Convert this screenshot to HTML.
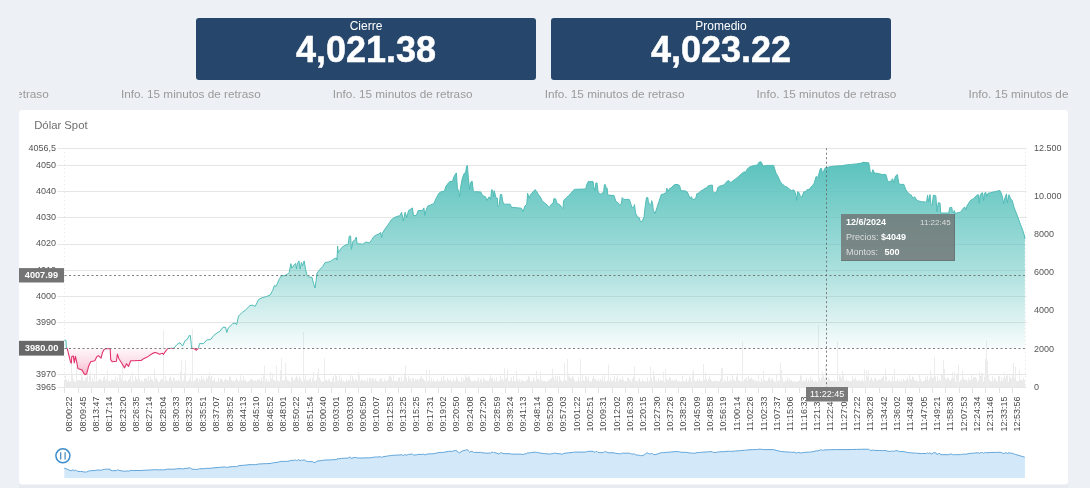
<!DOCTYPE html><html><head><meta charset="utf-8"><style>
html,body{margin:0;padding:0;width:1090px;height:488px;overflow:hidden;background:#edf0f4;}
svg{display:block;font-family:"Liberation Sans", sans-serif;will-change:transform;}
</style></head><body>
<svg width="1090" height="488" viewBox="0 0 1090 488">
<defs>
<linearGradient id="gt" gradientUnits="userSpaceOnUse" x1="0" y1="160" x2="0" y2="356"><stop offset="0" stop-color="#5ac2bd" stop-opacity="1"/><stop offset="0.55" stop-color="#5ac2bd" stop-opacity="0.52"/><stop offset="1" stop-color="#5ac2bd" stop-opacity="0"/></linearGradient>
<linearGradient id="gp" gradientUnits="userSpaceOnUse" x1="0" y1="348" x2="0" y2="376"><stop offset="0" stop-color="#fff8fa"/><stop offset="0.5" stop-color="#fbdde7"/><stop offset="1" stop-color="#f5b3c7"/></linearGradient>
<linearGradient id="gn" gradientUnits="userSpaceOnUse" x1="0" y1="445" x2="0" y2="478"><stop offset="0" stop-color="#cfe6f8"/><stop offset="1" stop-color="#d9ebf9"/></linearGradient>
<clipPath id="cu"><rect x="0" y="0" width="1090" height="348.3"/></clipPath>
<clipPath id="cd"><rect x="0" y="348.3" width="1090" height="200"/></clipPath>
</defs>
<rect x="196" y="18" width="340" height="62" rx="3" fill="#26476b"/>
<text x="366" y="30" font-size="12" fill="#fff" text-anchor="middle">Cierre</text>
<text x="366" y="62" font-size="36" font-weight="bold" fill="#fff" stroke="#fff" stroke-width="0.5" text-anchor="middle">4,021.38</text>
<rect x="551" y="18" width="340" height="62" rx="3" fill="#26476b"/>
<text x="721" y="30" font-size="12" fill="#fff" text-anchor="middle">Promedio</text>
<text x="721" y="62" font-size="36" font-weight="bold" fill="#fff" stroke="#fff" stroke-width="0.5" text-anchor="middle">4,023.22</text>
<clipPath id="ct"><rect x="19" y="80" width="1049" height="30"/></clipPath>
<g clip-path="url(#ct)">
<text x="-91.0" y="97.6" font-size="11.75" fill="#9a9a9a">Info. 15 minutos de retraso</text>
<text x="120.9" y="97.6" font-size="11.75" fill="#9a9a9a">Info. 15 minutos de retraso</text>
<text x="332.8" y="97.6" font-size="11.75" fill="#9a9a9a">Info. 15 minutos de retraso</text>
<text x="544.7" y="97.6" font-size="11.75" fill="#9a9a9a">Info. 15 minutos de retraso</text>
<text x="756.6" y="97.6" font-size="11.75" fill="#9a9a9a">Info. 15 minutos de retraso</text>
<text x="968.5" y="97.6" font-size="11.75" fill="#9a9a9a">Info. 15 minutos de retraso</text>
</g>
<rect x="19" y="470" width="1049" height="18" fill="#e7eaee"/>
<rect x="19" y="110" width="1049" height="374.4" rx="3" fill="#fff"/>
<text x="34.2" y="128.8" font-size="11.3" fill="#6e6e6e">Dólar Spot</text>
<line x1="57.5" y1="148.5" x2="1026.5" y2="148.5" stroke="#e6e6e6" stroke-width="1"/>
<line x1="57.5" y1="165.5" x2="1026.5" y2="165.5" stroke="#e6e6e6" stroke-width="1"/>
<line x1="57.5" y1="191.5" x2="1026.5" y2="191.5" stroke="#e6e6e6" stroke-width="1"/>
<line x1="57.5" y1="217.5" x2="1026.5" y2="217.5" stroke="#e6e6e6" stroke-width="1"/>
<line x1="57.5" y1="244.5" x2="1026.5" y2="244.5" stroke="#e6e6e6" stroke-width="1"/>
<line x1="57.5" y1="270.5" x2="1026.5" y2="270.5" stroke="#e6e6e6" stroke-width="1"/>
<line x1="57.5" y1="296.5" x2="1026.5" y2="296.5" stroke="#e6e6e6" stroke-width="1"/>
<line x1="57.5" y1="322.5" x2="1026.5" y2="322.5" stroke="#e6e6e6" stroke-width="1"/>
<line x1="57.5" y1="374.5" x2="1026.5" y2="374.5" stroke="#e6e6e6" stroke-width="1"/>
<line x1="57.5" y1="387.5" x2="1026.5" y2="387.5" stroke="#e6e6e6" stroke-width="1"/>
<text x="56" y="150.9" font-size="9" fill="#555" text-anchor="end">4056,5</text>
<text x="56" y="167.9" font-size="9" fill="#555" text-anchor="end">4050</text>
<text x="56" y="194.0" font-size="9" fill="#555" text-anchor="end">4040</text>
<text x="56" y="220.2" font-size="9" fill="#555" text-anchor="end">4030</text>
<text x="56" y="246.3" font-size="9" fill="#555" text-anchor="end">4020</text>
<text x="56" y="272.5" font-size="9" fill="#555" text-anchor="end">4010</text>
<text x="56" y="298.6" font-size="9" fill="#555" text-anchor="end">4000</text>
<text x="56" y="324.7" font-size="9" fill="#555" text-anchor="end">3990</text>
<text x="56" y="377.0" font-size="9" fill="#555" text-anchor="end">3970</text>
<text x="56" y="390.1" font-size="9" fill="#555" text-anchor="end">3965</text>
<text x="1034" y="389.7" font-size="9" fill="#555">0</text>
<text x="1034" y="351.5" font-size="9" fill="#555">2000</text>
<text x="1034" y="313.3" font-size="9" fill="#555">4000</text>
<text x="1034" y="275.1" font-size="9" fill="#555">6000</text>
<text x="1034" y="236.9" font-size="9" fill="#555">8000</text>
<text x="1034" y="198.7" font-size="9" fill="#555">10.000</text>
<text x="1034" y="150.5" font-size="9" fill="#555">12.500</text>
<path d="M64.5 387.4V380.3M66.5 387.4V380.0M67.5 387.4V381.3M68.5 387.4V379.3M69.5 387.4V381.6M70.5 387.4V381.6M73.5 387.4V379.4M74.5 387.4V381.8M75.5 387.4V381.6M77.5 387.4V380.3M78.5 387.4V380.0M79.5 387.4V380.1M80.5 387.4V380.3M82.5 387.4V377.2M83.5 387.4V380.9M84.5 387.4V380.9M85.5 387.4V378.2M86.5 387.4V377.1M88.5 387.4V381.8M89.5 387.4V375.8M91.5 387.4V381.6M92.5 387.4V378.0M93.5 387.4V381.6M95.5 387.4V381.5M97.5 387.4V381.3M98.5 387.4V380.3M99.5 387.4V378.5M100.5 387.4V379.2M101.5 387.4V380.4M102.5 387.4V381.0M103.5 387.4V377.7M104.5 387.4V376.4M105.5 387.4V380.5M106.5 387.4V379.2M108.5 387.4V381.1M109.5 387.4V380.8M110.5 387.4V381.6M111.5 387.4V379.6M112.5 387.4V379.5M113.5 387.4V380.3M114.5 387.4V380.1M115.5 387.4V376.8M116.5 387.4V381.4M117.5 387.4V377.5M118.5 387.4V381.3M121.5 387.4V379.5M123.5 387.4V381.1M124.5 387.4V381.1M125.5 387.4V379.5M126.5 387.4V381.3M127.5 387.4V381.6M128.5 387.4V379.8M129.5 387.4V379.4M130.5 387.4V375.6M131.5 387.4V381.8M133.5 387.4V380.6M134.5 387.4V381.4M135.5 387.4V376.3M136.5 387.4V379.1M137.5 387.4V379.6M139.5 387.4V378.8M140.5 387.4V381.7M141.5 387.4V380.2M142.5 387.4V380.8M143.5 387.4V381.6M144.5 387.4V378.5M145.5 387.4V378.5M146.5 387.4V377.9M147.5 387.4V380.7M148.5 387.4V376.0M149.5 387.4V380.5M150.5 387.4V376.8M151.5 387.4V379.3M152.5 387.4V379.6M153.5 387.4V381.6M155.5 387.4V378.5M156.5 387.4V378.5M157.5 387.4V380.3M158.5 387.4V381.6M159.5 387.4V381.7M160.5 387.4V380.2M161.5 387.4V378.8M162.5 387.4V379.4M164.5 387.4V381.2M165.5 387.4V375.9M166.5 387.4V380.3M167.5 387.4V380.8M168.5 387.4V381.2M169.5 387.4V377.7M170.5 387.4V376.5M171.5 387.4V379.6M172.5 387.4V381.4M173.5 387.4V377.3M174.5 387.4V378.7M175.5 387.4V381.0M176.5 387.4V380.3M177.5 387.4V381.2M178.5 387.4V379.3M179.5 387.4V380.9M182.5 387.4V381.7M183.5 387.4V379.7M186.5 387.4V381.1M187.5 387.4V381.7M188.5 387.4V380.3M189.5 387.4V379.1M191.5 387.4V381.2M193.5 387.4V381.3M194.5 387.4V380.7M195.5 387.4V380.0M196.5 387.4V378.3M197.5 387.4V377.9M198.5 387.4V381.6M199.5 387.4V378.6M200.5 387.4V380.3M201.5 387.4V375.8M202.5 387.4V379.7M203.5 387.4V377.8M204.5 387.4V380.2M205.5 387.4V381.2M206.5 387.4V377.5M207.5 387.4V378.6M208.5 387.4V376.0M210.5 387.4V377.9M211.5 387.4V375.8M212.5 387.4V380.7M213.5 387.4V380.3M214.5 387.4V378.1M215.5 387.4V381.7M216.5 387.4V381.6M217.5 387.4V381.3M218.5 387.4V377.9M219.5 387.4V381.4M220.5 387.4V378.6M221.5 387.4V378.9M222.5 387.4V380.1M223.5 387.4V381.6M224.5 387.4V379.9M225.5 387.4V378.5M226.5 387.4V380.0M227.5 387.4V379.7M228.5 387.4V380.6M229.5 387.4V376.0M230.5 387.4V377.0M231.5 387.4V379.9M232.5 387.4V381.2M233.5 387.4V380.1M234.5 387.4V381.7M235.5 387.4V380.0M236.5 387.4V377.8M237.5 387.4V380.1M238.5 387.4V381.6M239.5 387.4V380.5M241.5 387.4V380.2M242.5 387.4V380.4M243.5 387.4V376.0M244.5 387.4V380.8M245.5 387.4V379.4M246.5 387.4V381.5M247.5 387.4V381.7M248.5 387.4V381.2M249.5 387.4V380.8M250.5 387.4V379.4M251.5 387.4V378.5M252.5 387.4V380.0M253.5 387.4V381.2M254.5 387.4V380.4M255.5 387.4V380.5M256.5 387.4V381.4M257.5 387.4V379.3M258.5 387.4V379.9M259.5 387.4V379.4M260.5 387.4V381.1M261.5 387.4V377.6M262.5 387.4V380.9M265.5 387.4V381.4M266.5 387.4V378.6M267.5 387.4V381.5M268.5 387.4V380.4M269.5 387.4V381.5M271.5 387.4V378.9M273.5 387.4V380.0M274.5 387.4V380.1M275.5 387.4V381.3M277.5 387.4V380.0M278.5 387.4V381.4M279.5 387.4V381.2M282.5 387.4V380.2M283.5 387.4V380.8M284.5 387.4V380.0M286.5 387.4V377.2M287.5 387.4V380.3M288.5 387.4V380.5M289.5 387.4V381.3M290.5 387.4V381.8M291.5 387.4V377.8M292.5 387.4V376.9M293.5 387.4V380.5M294.5 387.4V380.0M295.5 387.4V377.7M296.5 387.4V375.7M297.5 387.4V378.0M298.5 387.4V380.5M299.5 387.4V376.5M300.5 387.4V378.2M301.5 387.4V380.5M302.5 387.4V381.6M304.5 387.4V379.4M306.5 387.4V380.8M307.5 387.4V379.7M308.5 387.4V380.6M309.5 387.4V379.2M310.5 387.4V378.2M311.5 387.4V381.7M312.5 387.4V378.4M314.5 387.4V380.6M315.5 387.4V381.1M316.5 387.4V379.8M319.5 387.4V377.7M320.5 387.4V379.5M321.5 387.4V381.7M322.5 387.4V381.4M323.5 387.4V381.3M325.5 387.4V380.4M326.5 387.4V379.5M327.5 387.4V381.0M328.5 387.4V379.7M329.5 387.4V378.6M330.5 387.4V381.8M331.5 387.4V381.7M332.5 387.4V378.3M333.5 387.4V376.1M334.5 387.4V381.7M336.5 387.4V375.9M337.5 387.4V380.2M338.5 387.4V381.1M340.5 387.4V380.2M341.5 387.4V377.6M342.5 387.4V381.5M343.5 387.4V380.3M344.5 387.4V381.7M345.5 387.4V381.5M346.5 387.4V379.0M347.5 387.4V381.0M348.5 387.4V380.4M349.5 387.4V379.9M351.5 387.4V381.1M352.5 387.4V376.2M353.5 387.4V379.3M354.5 387.4V381.0M355.5 387.4V379.7M356.5 387.4V379.3M357.5 387.4V381.3M360.5 387.4V381.0M361.5 387.4V379.4M362.5 387.4V379.8M363.5 387.4V381.6M364.5 387.4V379.8M365.5 387.4V380.6M366.5 387.4V381.2M367.5 387.4V378.4M368.5 387.4V381.6M369.5 387.4V377.7M370.5 387.4V378.1M371.5 387.4V380.4M372.5 387.4V377.6M373.5 387.4V379.1M374.5 387.4V380.8M375.5 387.4V378.4M376.5 387.4V380.4M377.5 387.4V381.5M378.5 387.4V381.6M379.5 387.4V379.7M380.5 387.4V378.9M381.5 387.4V378.1M382.5 387.4V381.2M383.5 387.4V381.6M384.5 387.4V378.6M385.5 387.4V381.0M386.5 387.4V380.7M387.5 387.4V380.7M388.5 387.4V378.7M389.5 387.4V375.5M390.5 387.4V375.7M391.5 387.4V377.7M392.5 387.4V380.8M394.5 387.4V381.1M395.5 387.4V380.7M396.5 387.4V380.5M397.5 387.4V381.3M398.5 387.4V377.8M399.5 387.4V377.3M400.5 387.4V381.3M401.5 387.4V376.5M402.5 387.4V381.7M403.5 387.4V379.8M406.5 387.4V377.9M407.5 387.4V381.6M408.5 387.4V376.1M409.5 387.4V379.3M410.5 387.4V378.4M411.5 387.4V381.1M412.5 387.4V378.2M413.5 387.4V378.2M414.5 387.4V380.8M415.5 387.4V379.0M416.5 387.4V379.9M417.5 387.4V378.7M418.5 387.4V380.5M419.5 387.4V379.1M420.5 387.4V377.7M421.5 387.4V376.3M422.5 387.4V379.2M423.5 387.4V378.7M424.5 387.4V380.4M425.5 387.4V381.4M427.5 387.4V381.3M428.5 387.4V380.4M430.5 387.4V381.5M431.5 387.4V378.1M432.5 387.4V381.6M433.5 387.4V379.6M434.5 387.4V381.7M435.5 387.4V381.3M436.5 387.4V381.1M437.5 387.4V379.5M438.5 387.4V381.3M439.5 387.4V381.3M440.5 387.4V380.9M441.5 387.4V377.6M442.5 387.4V381.0M443.5 387.4V375.7M444.5 387.4V379.8M445.5 387.4V380.2M446.5 387.4V381.7M447.5 387.4V377.8M448.5 387.4V379.9M449.5 387.4V381.0M450.5 387.4V379.1M451.5 387.4V381.8M452.5 387.4V380.6M453.5 387.4V378.7M454.5 387.4V381.4M455.5 387.4V380.8M456.5 387.4V376.7M457.5 387.4V379.3M458.5 387.4V381.0M459.5 387.4V381.4M460.5 387.4V381.8M461.5 387.4V377.1M462.5 387.4V381.6M463.5 387.4V378.6M464.5 387.4V380.2M466.5 387.4V376.9M467.5 387.4V377.9M468.5 387.4V375.6M469.5 387.4V377.4M470.5 387.4V379.8M471.5 387.4V381.4M472.5 387.4V380.9M473.5 387.4V381.6M474.5 387.4V380.2M475.5 387.4V380.7M476.5 387.4V381.5M477.5 387.4V380.3M478.5 387.4V377.4M479.5 387.4V381.8M480.5 387.4V378.7M481.5 387.4V379.7M482.5 387.4V381.8M483.5 387.4V377.8M484.5 387.4V379.4M485.5 387.4V380.6M486.5 387.4V380.9M487.5 387.4V380.6M488.5 387.4V381.1M489.5 387.4V378.5M491.5 387.4V378.6M492.5 387.4V377.4M493.5 387.4V381.4M494.5 387.4V379.0M495.5 387.4V381.3M496.5 387.4V377.3M497.5 387.4V381.6M498.5 387.4V381.4M499.5 387.4V380.5M500.5 387.4V375.5M501.5 387.4V380.0M502.5 387.4V378.2M503.5 387.4V380.6M505.5 387.4V378.8M506.5 387.4V377.9M508.5 387.4V380.8M509.5 387.4V381.5M510.5 387.4V380.0M511.5 387.4V377.4M512.5 387.4V381.4M513.5 387.4V376.0M514.5 387.4V380.7M515.5 387.4V381.4M517.5 387.4V378.7M518.5 387.4V381.3M519.5 387.4V379.3M520.5 387.4V381.6M521.5 387.4V379.7M522.5 387.4V380.8M523.5 387.4V380.7M524.5 387.4V381.5M525.5 387.4V381.4M526.5 387.4V379.8M527.5 387.4V379.7M528.5 387.4V375.8M529.5 387.4V377.5M530.5 387.4V381.5M531.5 387.4V380.9M532.5 387.4V381.1M533.5 387.4V377.4M534.5 387.4V379.8M535.5 387.4V381.7M537.5 387.4V379.1M538.5 387.4V379.0M539.5 387.4V380.6M541.5 387.4V380.2M542.5 387.4V380.6M543.5 387.4V381.3M544.5 387.4V381.0M545.5 387.4V380.8M546.5 387.4V381.7M547.5 387.4V381.4M548.5 387.4V379.5M549.5 387.4V380.5M550.5 387.4V378.9M551.5 387.4V378.3M553.5 387.4V377.0M554.5 387.4V380.4M555.5 387.4V375.9M556.5 387.4V379.9M557.5 387.4V375.9M558.5 387.4V381.7M559.5 387.4V376.0M560.5 387.4V379.5M561.5 387.4V380.9M562.5 387.4V381.6M563.5 387.4V380.3M565.5 387.4V379.9M566.5 387.4V380.9M569.5 387.4V376.8M570.5 387.4V377.7M571.5 387.4V378.4M572.5 387.4V376.0M573.5 387.4V377.9M574.5 387.4V379.9M575.5 387.4V381.8M576.5 387.4V380.9M577.5 387.4V381.6M578.5 387.4V377.6M579.5 387.4V380.7M581.5 387.4V380.9M583.5 387.4V380.2M584.5 387.4V380.9M585.5 387.4V376.1M586.5 387.4V377.3M587.5 387.4V380.2M588.5 387.4V376.5M589.5 387.4V381.2M590.5 387.4V381.3M591.5 387.4V381.7M592.5 387.4V378.6M593.5 387.4V376.0M594.5 387.4V378.7M595.5 387.4V378.8M596.5 387.4V380.3M597.5 387.4V381.2M598.5 387.4V378.7M599.5 387.4V381.3M600.5 387.4V379.1M601.5 387.4V380.6M602.5 387.4V376.4M603.5 387.4V381.1M605.5 387.4V381.0M606.5 387.4V381.6M607.5 387.4V380.3M609.5 387.4V381.0M610.5 387.4V377.7M611.5 387.4V381.0M612.5 387.4V381.1M613.5 387.4V379.8M614.5 387.4V376.1M615.5 387.4V381.7M616.5 387.4V378.3M618.5 387.4V381.3M619.5 387.4V379.2M620.5 387.4V379.1M621.5 387.4V380.0M622.5 387.4V377.1M623.5 387.4V380.0M624.5 387.4V381.3M625.5 387.4V381.3M626.5 387.4V381.1M627.5 387.4V378.1M628.5 387.4V377.9M629.5 387.4V380.1M630.5 387.4V379.6M631.5 387.4V381.7M632.5 387.4V378.7M633.5 387.4V376.6M635.5 387.4V380.4M636.5 387.4V381.0M637.5 387.4V381.6M638.5 387.4V379.7M639.5 387.4V377.9M640.5 387.4V381.4M641.5 387.4V381.7M642.5 387.4V379.4M643.5 387.4V381.0M644.5 387.4V381.6M645.5 387.4V381.3M646.5 387.4V381.4M647.5 387.4V377.4M648.5 387.4V381.6M649.5 387.4V380.7M651.5 387.4V378.2M652.5 387.4V381.4M654.5 387.4V376.3M655.5 387.4V380.6M656.5 387.4V380.4M657.5 387.4V381.7M658.5 387.4V378.2M659.5 387.4V381.1M660.5 387.4V379.8M661.5 387.4V380.3M662.5 387.4V380.7M664.5 387.4V381.7M666.5 387.4V378.8M667.5 387.4V379.6M668.5 387.4V380.2M669.5 387.4V377.2M670.5 387.4V378.0M671.5 387.4V380.7M672.5 387.4V379.8M673.5 387.4V381.2M674.5 387.4V380.2M675.5 387.4V380.3M676.5 387.4V379.0M677.5 387.4V381.2M678.5 387.4V381.6M679.5 387.4V380.7M680.5 387.4V381.8M681.5 387.4V381.0M683.5 387.4V381.0M684.5 387.4V381.4M685.5 387.4V380.7M686.5 387.4V378.6M687.5 387.4V381.7M688.5 387.4V380.6M689.5 387.4V376.4M690.5 387.4V378.1M691.5 387.4V381.7M694.5 387.4V380.4M695.5 387.4V381.4M696.5 387.4V381.0M697.5 387.4V379.1M698.5 387.4V381.2M699.5 387.4V378.7M700.5 387.4V380.6M701.5 387.4V381.2M702.5 387.4V380.7M704.5 387.4V379.7M706.5 387.4V379.0M707.5 387.4V381.2M708.5 387.4V379.1M709.5 387.4V376.7M710.5 387.4V379.3M711.5 387.4V380.4M712.5 387.4V381.6M713.5 387.4V380.8M714.5 387.4V381.0M715.5 387.4V380.5M716.5 387.4V381.3M717.5 387.4V381.1M718.5 387.4V380.8M719.5 387.4V381.4M720.5 387.4V378.8M723.5 387.4V381.7M724.5 387.4V379.6M725.5 387.4V380.8M726.5 387.4V381.7M727.5 387.4V376.2M728.5 387.4V381.0M729.5 387.4V381.3M730.5 387.4V379.4M731.5 387.4V380.7M733.5 387.4V379.3M734.5 387.4V380.5M735.5 387.4V381.0M736.5 387.4V376.5M738.5 387.4V380.0M739.5 387.4V380.7M740.5 387.4V381.4M741.5 387.4V381.2M743.5 387.4V381.1M744.5 387.4V379.2M745.5 387.4V379.4M746.5 387.4V377.4M747.5 387.4V380.8M748.5 387.4V376.4M749.5 387.4V378.7M750.5 387.4V378.9M751.5 387.4V377.5M752.5 387.4V379.4M753.5 387.4V379.7M754.5 387.4V381.0M755.5 387.4V379.9M756.5 387.4V381.1M757.5 387.4V381.3M759.5 387.4V381.5M760.5 387.4V381.5M761.5 387.4V378.1M762.5 387.4V381.4M764.5 387.4V380.0M765.5 387.4V380.6M766.5 387.4V381.1M767.5 387.4V380.8M768.5 387.4V378.2M769.5 387.4V377.4M770.5 387.4V380.4M771.5 387.4V379.4M772.5 387.4V377.8M773.5 387.4V380.6M774.5 387.4V381.1M775.5 387.4V381.8M777.5 387.4V381.4M778.5 387.4V380.4M779.5 387.4V380.5M782.5 387.4V378.5M783.5 387.4V381.5M784.5 387.4V381.7M785.5 387.4V380.2M786.5 387.4V380.9M787.5 387.4V377.2M788.5 387.4V380.6M789.5 387.4V378.2M790.5 387.4V380.6M791.5 387.4V379.8M792.5 387.4V381.4M793.5 387.4V381.5M794.5 387.4V381.1M795.5 387.4V381.5M796.5 387.4V381.8M797.5 387.4V381.4M798.5 387.4V381.0M799.5 387.4V380.2M801.5 387.4V376.2M802.5 387.4V381.6M803.5 387.4V380.1M804.5 387.4V381.2M805.5 387.4V380.1M806.5 387.4V377.7M807.5 387.4V381.7M808.5 387.4V379.1M809.5 387.4V381.0M810.5 387.4V376.8M811.5 387.4V380.3M812.5 387.4V378.6M813.5 387.4V381.7M814.5 387.4V381.5M815.5 387.4V380.7M816.5 387.4V380.9M817.5 387.4V381.8M819.5 387.4V377.9M820.5 387.4V380.5M821.5 387.4V377.4M824.5 387.4V378.7M826.5 387.4V381.2M827.5 387.4V380.6M828.5 387.4V377.6M829.5 387.4V379.3M830.5 387.4V381.0M831.5 387.4V380.8M832.5 387.4V380.8M833.5 387.4V381.2M834.5 387.4V379.8M835.5 387.4V381.3M836.5 387.4V381.4M838.5 387.4V380.8M840.5 387.4V376.5M841.5 387.4V378.3M844.5 387.4V380.5M845.5 387.4V381.3M846.5 387.4V379.0M847.5 387.4V380.8M848.5 387.4V380.7M849.5 387.4V381.4M850.5 387.4V380.6M851.5 387.4V381.2M852.5 387.4V376.3M853.5 387.4V379.3M854.5 387.4V379.7M855.5 387.4V377.3M856.5 387.4V380.3M857.5 387.4V380.4M858.5 387.4V381.1M859.5 387.4V379.7M860.5 387.4V381.7M861.5 387.4V380.3M862.5 387.4V379.5M863.5 387.4V381.4M865.5 387.4V380.9M867.5 387.4V376.7M869.5 387.4V381.1M870.5 387.4V379.2M871.5 387.4V377.4M872.5 387.4V380.0M873.5 387.4V381.6M874.5 387.4V378.7M875.5 387.4V377.7M876.5 387.4V379.9M877.5 387.4V381.3M878.5 387.4V379.2M879.5 387.4V379.8M880.5 387.4V380.1M881.5 387.4V377.8M882.5 387.4V378.1M883.5 387.4V375.9M884.5 387.4V381.4M886.5 387.4V376.8M887.5 387.4V381.5M888.5 387.4V380.6M889.5 387.4V379.4M890.5 387.4V381.6M891.5 387.4V381.2M892.5 387.4V376.6M893.5 387.4V381.3M895.5 387.4V380.9M896.5 387.4V381.0M897.5 387.4V378.8M898.5 387.4V381.5M899.5 387.4V380.2M900.5 387.4V381.5M901.5 387.4V379.4M902.5 387.4V381.3M903.5 387.4V378.9M904.5 387.4V380.7M905.5 387.4V380.5M906.5 387.4V379.3M907.5 387.4V377.5M908.5 387.4V380.3M910.5 387.4V378.8M911.5 387.4V379.6M912.5 387.4V376.6M913.5 387.4V377.0M914.5 387.4V380.3M915.5 387.4V380.6M916.5 387.4V379.5M917.5 387.4V381.6M918.5 387.4V381.0M920.5 387.4V378.8M921.5 387.4V381.1M922.5 387.4V381.4M923.5 387.4V381.1M924.5 387.4V380.8M925.5 387.4V377.1M926.5 387.4V379.8M927.5 387.4V376.1M928.5 387.4V380.7M929.5 387.4V378.6M931.5 387.4V376.8M932.5 387.4V378.7M933.5 387.4V377.1M935.5 387.4V376.6M936.5 387.4V381.5M937.5 387.4V376.5M938.5 387.4V380.6M939.5 387.4V379.3M940.5 387.4V380.9M945.5 387.4V378.0M946.5 387.4V380.0M947.5 387.4V377.6M948.5 387.4V378.2M949.5 387.4V380.4M950.5 387.4V380.6M951.5 387.4V378.7M953.5 387.4V378.1M955.5 387.4V381.7M959.5 387.4V381.6M960.5 387.4V380.3M961.5 387.4V379.8M963.5 387.4V378.3M964.5 387.4V380.0M965.5 387.4V379.5M966.5 387.4V379.6M967.5 387.4V381.5M968.5 387.4V378.0M969.5 387.4V380.5M970.5 387.4V379.9M972.5 387.4V379.2M973.5 387.4V377.3M974.5 387.4V377.2M975.5 387.4V377.1M976.5 387.4V378.4M977.5 387.4V381.5M978.5 387.4V380.2M980.5 387.4V376.1M983.5 387.4V381.5M984.5 387.4V376.9M989.5 387.4V379.4M990.5 387.4V381.2M991.5 387.4V381.4M992.5 387.4V376.3M993.5 387.4V381.2M994.5 387.4V377.7M995.5 387.4V379.1M996.5 387.4V381.1M997.5 387.4V381.6M998.5 387.4V376.2M999.5 387.4V376.0M1000.5 387.4V381.2M1001.5 387.4V377.4M1002.5 387.4V380.9M1003.5 387.4V378.1M1005.5 387.4V378.5M1006.5 387.4V375.8M1008.5 387.4V381.5M1009.5 387.4V375.5M1010.5 387.4V377.7M1011.5 387.4V378.8M1014.5 387.4V377.8M1016.5 387.4V381.3M1017.5 387.4V380.7M1018.5 387.4V381.2M1020.5 387.4V379.5M1021.5 387.4V380.1M1022.5 387.4V380.3M1023.5 387.4V377.9M1024.5 387.4V380.3" stroke="#eaeaea" stroke-width="1" fill="none"/>
<path d="M65.5 387.4V375.4M71.5 387.4V357.7M72.5 387.4V373.4M76.5 387.4V367.0M81.5 387.4V366.7M87.5 387.4V373.9M90.5 387.4V372.0M94.5 387.4V373.5M96.5 387.4V361.1M107.5 387.4V370.5M119.5 387.4V374.7M120.5 387.4V374.3M122.5 387.4V358.1M132.5 387.4V372.2M138.5 387.4V359.0M154.5 387.4V369.3M163.5 387.4V330.3M180.5 387.4V371.8M181.5 387.4V359.7M184.5 387.4V373.0M185.5 387.4V360.5M190.5 387.4V373.8M192.5 387.4V328.8M209.5 387.4V372.3M240.5 387.4V375.4M263.5 387.4V375.4M264.5 387.4V365.8M270.5 387.4V371.8M272.5 387.4V373.2M276.5 387.4V365.5M280.5 387.4V370.2M281.5 387.4V358.3M285.5 387.4V362.8M303.5 387.4V331.9M305.5 387.4V374.6M313.5 387.4V371.9M317.5 387.4V373.3M318.5 387.4V368.5M324.5 387.4V358.4M335.5 387.4V374.6M339.5 387.4V374.9M350.5 387.4V374.2M358.5 387.4V372.1M359.5 387.4V374.3M393.5 387.4V375.0M404.5 387.4V373.3M405.5 387.4V365.6M426.5 387.4V370.0M429.5 387.4V369.8M465.5 387.4V374.0M490.5 387.4V374.5M504.5 387.4V368.2M507.5 387.4V369.4M516.5 387.4V371.0M536.5 387.4V370.9M540.5 387.4V371.8M552.5 387.4V368.7M564.5 387.4V362.9M567.5 387.4V359.0M568.5 387.4V373.3M580.5 387.4V359.2M582.5 387.4V375.0M604.5 387.4V375.3M608.5 387.4V364.6M617.5 387.4V375.2M634.5 387.4V366.5M650.5 387.4V366.6M653.5 387.4V371.1M663.5 387.4V371.9M665.5 387.4V369.2M682.5 387.4V375.4M692.5 387.4V372.7M693.5 387.4V369.8M703.5 387.4V364.1M705.5 387.4V372.5M721.5 387.4V368.4M722.5 387.4V368.1M732.5 387.4V374.7M737.5 387.4V373.0M742.5 387.4V341.6M758.5 387.4V374.2M763.5 387.4V370.8M776.5 387.4V374.7M780.5 387.4V362.6M781.5 387.4V370.3M800.5 387.4V374.2M818.5 387.4V325.0M822.5 387.4V371.1M823.5 387.4V374.3M825.5 387.4V365.0M837.5 387.4V341.3M839.5 387.4V374.2M842.5 387.4V370.8M843.5 387.4V373.6M864.5 387.4V369.4M866.5 387.4V370.4M868.5 387.4V370.3M885.5 387.4V369.2M894.5 387.4V369.3M909.5 387.4V374.7M919.5 387.4V374.1M930.5 387.4V370.4M934.5 387.4V357.3M941.5 387.4V375.0M942.5 387.4V375.2M943.5 387.4V359.9M944.5 387.4V369.1M952.5 387.4V372.3M954.5 387.4V371.8M956.5 387.4V375.2M957.5 387.4V373.4M958.5 387.4V364.9M962.5 387.4V370.9M971.5 387.4V374.9M979.5 387.4V372.0M981.5 387.4V372.9M982.5 387.4V373.2M985.5 387.4V358.6M986.5 387.4V340.7M987.5 387.4V361.2M988.5 387.4V374.2M1004.5 387.4V372.6M1007.5 387.4V375.2M1012.5 387.4V374.8M1013.5 387.4V362.8M1015.5 387.4V366.7M1019.5 387.4V370.3" stroke="#ececec" stroke-width="1" fill="none"/>
<path d="M64.5 148.2V387.4M1025.5 148.2V387.4" stroke="#e4e4e4" stroke-dasharray="1,3" stroke-width="1" fill="none"/>
<path d="M64.3 340.0 L66.0 340.5 L66.4 348.5 L67.2 348.4 L70.2 360.7 L71.3 363.3 L71.8 356.6 L73.3 356.0 L74.3 362.8 L75.4 356.4 L76.4 360.7 L77.9 368.4 L80.5 369.4 L82.0 370.0 L83.6 373.0 L85.1 374.6 L86.6 374.1 L88.7 365.9 L90.7 361.8 L94.8 360.7 L96.9 356.6 L98.4 355.6 L101.0 358.2 L102.5 352.5 L104.1 349.5 L105.6 348.6 L110.2 348.6 L110.7 359.7 L112.3 361.8 L116.4 361.3 L117.4 354.1 L118.9 358.7 L121.5 362.8 L124.5 367.9 L126.6 363.8 L128.6 366.4 L130.7 360.7 L133.8 360.7 L138.0 360.5 L141.1 360.5 L144.1 358.4 L148.2 356.4 L151.3 354.3 L154.4 352.6 L156.4 352.8 L159.5 354.3 L162.6 353.3 L163.6 354.3 L165.2 351.8 L167.7 348.5 L173.9 348.2 L176.9 344.6 L180.0 342.7 L182.6 346.1 L185.1 340.5 L187.2 339.5 L189.2 335.6 L190.3 335.4 L191.3 344.6 L191.8 348.2 L194.4 348.7 L196.4 350.2 L198.5 348.2 L199.5 343.6 L203.6 343.6 L206.6 340.0 L210.7 339.5 L213.8 335.4 L218.0 332.3 L219.5 331.7 L223.0 327.3 L225.6 327.3 L226.8 332.5 L228.2 328.2 L232.6 323.8 L235.2 322.9 L236.6 324.7 L238.6 316.0 L242.1 312.5 L245.6 309.9 L250.0 305.5 L252.6 305.2 L255.2 306.4 L258.7 299.4 L262.2 297.7 L266.5 296.5 L270.0 295.1 L272.6 290.7 L274.4 285.5 L276.1 286.4 L279.6 278.5 L281.3 275.9 L284.8 275.6 L287.4 274.2 L289.2 272.4 L290.9 263.7 L291.8 268.1 L294.4 264.6 L295.6 263.4 L296.5 269.1 L297.3 264.2 L298.9 260.9 L300.2 269.1 L301.4 262.5 L302.5 265.8 L304.2 260.9 L305.5 269.1 L307.1 275.7 L308.8 277.0 L312.0 277.3 L313.7 283.9 L315.0 288.0 L316.1 280.6 L317.0 273.2 L320.2 269.1 L322.7 266.6 L325.1 262.5 L330.1 261.7 L333.3 259.3 L336.3 258.0 L337.0 260.1 L337.6 246.1 L338.3 252.7 L341.5 247.8 L344.8 245.3 L348.1 244.5 L349.4 236.0 L350.6 236.0 L351.4 249.4 L353.0 241.2 L354.7 240.4 L356.3 237.1 L357.1 243.7 L362.9 244.2 L366.1 242.0 L369.4 242.9 L371.9 239.6 L373.7 236.7 L376.4 234.9 L379.0 234.0 L380.7 232.3 L381.6 237.5 L382.5 233.2 L385.1 228.8 L387.7 225.3 L389.4 222.7 L391.2 220.1 L392.9 218.4 L396.4 216.6 L399.9 215.7 L401.6 212.3 L403.4 221.0 L405.1 212.3 L406.8 217.5 L408.6 210.5 L411.2 208.8 L412.4 207.9 L413.5 215.7 L416.4 215.4 L418.2 210.5 L422.5 210.5 L423.9 207.9 L424.8 215.4 L426.0 210.5 L427.7 206.2 L430.4 205.0 L433.8 203.6 L436.5 197.5 L439.1 193.1 L441.7 191.4 L444.3 191.4 L446.0 186.1 L448.7 182.6 L450.0 181.5 L452.5 181.5 L453.7 177.2 L455.5 174.1 L456.4 172.9 L457.4 188.3 L458.6 190.7 L459.6 196.9 L460.4 188.3 L462.3 178.4 L464.1 173.5 L465.7 172.3 L466.6 166.1 L467.4 165.5 L468.4 178.4 L469.7 189.5 L470.9 182.1 L472.1 181.1 L473.3 190.7 L474.6 191.7 L480.7 191.9 L482.6 195.6 L485.6 196.9 L486.9 200.5 L489.1 196.9 L490.5 199.3 L491.8 189.5 L493.0 191.9 L493.6 196.9 L494.2 190.7 L496.1 198.1 L497.3 198.1 L497.9 206.7 L499.1 205.5 L500.4 194.4 L501.6 194.4 L502.8 201.8 L504.1 204.2 L510.2 204.2 L511.4 207.3 L521.3 208.2 L523.1 211.6 L524.9 206.1 L526.8 204.2 L527.6 193.2 L529.2 198.2 L530.5 194.5 L532.9 192.0 L535.1 189.6 L536.6 191.4 L538.4 194.5 L540.3 197.0 L542.1 200.6 L544.6 203.1 L547.7 205.5 L549.5 207.4 L551.3 204.3 L553.2 203.1 L553.8 198.8 L555.6 198.8 L556.9 203.1 L559.9 204.9 L561.8 207.4 L563.0 208.6 L563.6 200.6 L566.1 198.2 L568.5 195.7 L571.0 193.3 L573.5 190.2 L575.3 189.3 L585.7 189.0 L586.7 184.7 L588.2 181.6 L593.1 181.6 L593.7 186.5 L595.0 190.8 L595.8 183.2 L597.0 182.8 L598.0 191.4 L599.9 194.5 L601.7 193.3 L603.6 192.6 L604.4 184.7 L605.4 184.7 L606.0 188.0 L607.2 188.3 L607.8 195.1 L614.0 195.5 L615.8 201.2 L618.3 203.1 L619.5 204.9 L621.4 203.7 L622.2 197.6 L623.8 199.4 L629.3 199.4 L630.6 203.1 L631.8 207.4 L633.6 207.4 L634.5 204.6 L635.5 212.9 L637.3 216.6 L639.2 217.8 L640.4 221.5 L642.2 221.5 L644.1 216.6 L645.3 205.5 L646.5 197.6 L647.8 197.6 L648.4 201.9 L649.6 204.3 L650.8 205.5 L651.7 200.6 L652.7 204.3 L653.3 210.5 L655.1 213.5 L657.0 207.4 L658.8 201.9 L661.3 194.5 L663.7 193.9 L666.2 192.6 L666.8 188.1 L668.0 191.4 L669.9 188.3 L671.1 188.1 L673.0 185.9 L674.8 184.4 L678.5 184.7 L679.7 185.9 L680.9 190.8 L684.6 190.8 L687.1 191.8 L688.9 195.5 L690.1 198.5 L691.4 196.7 L692.6 199.8 L695.7 198.5 L696.9 193.6 L698.7 193.0 L700.6 191.2 L703.7 189.3 L706.7 187.5 L708.6 185.6 L712.3 185.0 L712.9 191.8 L714.7 193.0 L716.6 191.8 L717.8 187.5 L719.6 186.2 L722.1 185.6 L724.5 184.4 L727.0 181.3 L728.8 180.5 L730.7 182.6 L733.1 180.7 L735.6 178.9 L738.1 177.0 L740.5 174.6 L743.0 172.7 L744.2 171.5 L745.2 173.3 L746.7 169.7 L749.1 167.2 L752.2 166.0 L755.3 165.4 L757.7 164.7 L758.9 162.3 L760.8 161.7 L762.0 163.5 L763.2 166.0 L766.9 165.4 L773.7 165.4 L774.9 169.7 L776.1 173.3 L778.0 176.4 L780.4 182.0 L782.3 183.8 L784.7 186.2 L787.8 187.5 L789.6 189.3 L791.5 190.5 L793.9 189.9 L795.8 194.2 L796.9 200.4 L797.6 191.8 L798.9 192.4 L800.1 195.5 L801.9 197.3 L803.8 191.8 L805.0 191.8 L806.2 190.5 L808.1 189.3 L809.3 189.9 L810.5 187.5 L812.4 185.6 L814.2 183.2 L816.1 176.4 L817.9 177.6 L820.4 168.4 L821.6 168.4 L822.2 172.7 L823.4 171.5 L825.3 167.8 L828.3 167.2 L830.8 166.6 L835.7 166.0 L842.0 165.7 L844.9 165.1 L851.5 164.4 L856.4 163.9 L861.3 163.1 L863.0 162.3 L868.7 162.8 L869.5 166.4 L870.3 173.0 L872.0 173.0 L872.8 169.7 L874.4 173.0 L879.3 173.8 L882.6 174.6 L884.3 174.3 L885.9 174.6 L887.5 180.3 L889.2 182.0 L891.6 180.3 L892.5 178.7 L893.8 182.8 L895.4 176.2 L897.4 174.6 L898.7 182.8 L899.8 184.4 L903.9 184.4 L905.6 189.3 L907.2 191.8 L909.7 194.3 L911.3 195.1 L913.0 198.4 L914.6 196.7 L916.2 199.2 L917.9 200.8 L921.7 201.7 L926.6 202.2 L927.6 195.2 L928.4 201.9 L930.0 194.6 L930.9 204.4 L932.1 205.6 L933.4 195.2 L935.8 195.8 L937.0 211.8 L938.3 202.6 L940.1 203.2 L940.7 213.0 L948.7 213.0 L949.9 207.5 L951.8 207.5 L952.4 211.8 L953.6 213.0 L954.2 210.5 L955.5 213.6 L958.5 212.4 L960.4 212.4 L961.6 210.5 L963.5 208.1 L964.7 206.9 L965.9 209.9 L967.1 205.6 L969.0 202.6 L970.8 200.1 L973.3 198.9 L975.1 197.0 L977.0 195.2 L978.2 194.6 L979.2 203.2 L980.0 195.8 L981.3 193.3 L982.5 192.7 L983.7 200.7 L984.3 194.0 L985.6 192.1 L986.8 196.4 L988.0 193.3 L990.5 192.7 L993.0 192.1 L995.4 191.5 L999.9 190.6 L1001.6 193.9 L1002.4 197.1 L1003.7 203.7 L1004.9 198.0 L1006.5 193.9 L1007.3 202.9 L1009.0 194.7 L1010.6 198.8 L1012.2 200.4 L1013.9 207.0 L1015.5 211.1 L1018.0 217.6 L1020.4 224.2 L1022.9 230.7 L1024.5 236.0 L1024.9 239.0 L1024.9 348.3 L64.3 348.3 Z" fill="url(#gt)" clip-path="url(#cu)"/>
<path d="M64.3 340.0 L66.0 340.5 L66.4 348.5 L67.2 348.4 L70.2 360.7 L71.3 363.3 L71.8 356.6 L73.3 356.0 L74.3 362.8 L75.4 356.4 L76.4 360.7 L77.9 368.4 L80.5 369.4 L82.0 370.0 L83.6 373.0 L85.1 374.6 L86.6 374.1 L88.7 365.9 L90.7 361.8 L94.8 360.7 L96.9 356.6 L98.4 355.6 L101.0 358.2 L102.5 352.5 L104.1 349.5 L105.6 348.6 L110.2 348.6 L110.7 359.7 L112.3 361.8 L116.4 361.3 L117.4 354.1 L118.9 358.7 L121.5 362.8 L124.5 367.9 L126.6 363.8 L128.6 366.4 L130.7 360.7 L133.8 360.7 L138.0 360.5 L141.1 360.5 L144.1 358.4 L148.2 356.4 L151.3 354.3 L154.4 352.6 L156.4 352.8 L159.5 354.3 L162.6 353.3 L163.6 354.3 L165.2 351.8 L167.7 348.5 L173.9 348.2 L176.9 344.6 L180.0 342.7 L182.6 346.1 L185.1 340.5 L187.2 339.5 L189.2 335.6 L190.3 335.4 L191.3 344.6 L191.8 348.2 L194.4 348.7 L196.4 350.2 L198.5 348.2 L199.5 343.6 L203.6 343.6 L206.6 340.0 L210.7 339.5 L213.8 335.4 L218.0 332.3 L219.5 331.7 L223.0 327.3 L225.6 327.3 L226.8 332.5 L228.2 328.2 L232.6 323.8 L235.2 322.9 L236.6 324.7 L238.6 316.0 L242.1 312.5 L245.6 309.9 L250.0 305.5 L252.6 305.2 L255.2 306.4 L258.7 299.4 L262.2 297.7 L266.5 296.5 L270.0 295.1 L272.6 290.7 L274.4 285.5 L276.1 286.4 L279.6 278.5 L281.3 275.9 L284.8 275.6 L287.4 274.2 L289.2 272.4 L290.9 263.7 L291.8 268.1 L294.4 264.6 L295.6 263.4 L296.5 269.1 L297.3 264.2 L298.9 260.9 L300.2 269.1 L301.4 262.5 L302.5 265.8 L304.2 260.9 L305.5 269.1 L307.1 275.7 L308.8 277.0 L312.0 277.3 L313.7 283.9 L315.0 288.0 L316.1 280.6 L317.0 273.2 L320.2 269.1 L322.7 266.6 L325.1 262.5 L330.1 261.7 L333.3 259.3 L336.3 258.0 L337.0 260.1 L337.6 246.1 L338.3 252.7 L341.5 247.8 L344.8 245.3 L348.1 244.5 L349.4 236.0 L350.6 236.0 L351.4 249.4 L353.0 241.2 L354.7 240.4 L356.3 237.1 L357.1 243.7 L362.9 244.2 L366.1 242.0 L369.4 242.9 L371.9 239.6 L373.7 236.7 L376.4 234.9 L379.0 234.0 L380.7 232.3 L381.6 237.5 L382.5 233.2 L385.1 228.8 L387.7 225.3 L389.4 222.7 L391.2 220.1 L392.9 218.4 L396.4 216.6 L399.9 215.7 L401.6 212.3 L403.4 221.0 L405.1 212.3 L406.8 217.5 L408.6 210.5 L411.2 208.8 L412.4 207.9 L413.5 215.7 L416.4 215.4 L418.2 210.5 L422.5 210.5 L423.9 207.9 L424.8 215.4 L426.0 210.5 L427.7 206.2 L430.4 205.0 L433.8 203.6 L436.5 197.5 L439.1 193.1 L441.7 191.4 L444.3 191.4 L446.0 186.1 L448.7 182.6 L450.0 181.5 L452.5 181.5 L453.7 177.2 L455.5 174.1 L456.4 172.9 L457.4 188.3 L458.6 190.7 L459.6 196.9 L460.4 188.3 L462.3 178.4 L464.1 173.5 L465.7 172.3 L466.6 166.1 L467.4 165.5 L468.4 178.4 L469.7 189.5 L470.9 182.1 L472.1 181.1 L473.3 190.7 L474.6 191.7 L480.7 191.9 L482.6 195.6 L485.6 196.9 L486.9 200.5 L489.1 196.9 L490.5 199.3 L491.8 189.5 L493.0 191.9 L493.6 196.9 L494.2 190.7 L496.1 198.1 L497.3 198.1 L497.9 206.7 L499.1 205.5 L500.4 194.4 L501.6 194.4 L502.8 201.8 L504.1 204.2 L510.2 204.2 L511.4 207.3 L521.3 208.2 L523.1 211.6 L524.9 206.1 L526.8 204.2 L527.6 193.2 L529.2 198.2 L530.5 194.5 L532.9 192.0 L535.1 189.6 L536.6 191.4 L538.4 194.5 L540.3 197.0 L542.1 200.6 L544.6 203.1 L547.7 205.5 L549.5 207.4 L551.3 204.3 L553.2 203.1 L553.8 198.8 L555.6 198.8 L556.9 203.1 L559.9 204.9 L561.8 207.4 L563.0 208.6 L563.6 200.6 L566.1 198.2 L568.5 195.7 L571.0 193.3 L573.5 190.2 L575.3 189.3 L585.7 189.0 L586.7 184.7 L588.2 181.6 L593.1 181.6 L593.7 186.5 L595.0 190.8 L595.8 183.2 L597.0 182.8 L598.0 191.4 L599.9 194.5 L601.7 193.3 L603.6 192.6 L604.4 184.7 L605.4 184.7 L606.0 188.0 L607.2 188.3 L607.8 195.1 L614.0 195.5 L615.8 201.2 L618.3 203.1 L619.5 204.9 L621.4 203.7 L622.2 197.6 L623.8 199.4 L629.3 199.4 L630.6 203.1 L631.8 207.4 L633.6 207.4 L634.5 204.6 L635.5 212.9 L637.3 216.6 L639.2 217.8 L640.4 221.5 L642.2 221.5 L644.1 216.6 L645.3 205.5 L646.5 197.6 L647.8 197.6 L648.4 201.9 L649.6 204.3 L650.8 205.5 L651.7 200.6 L652.7 204.3 L653.3 210.5 L655.1 213.5 L657.0 207.4 L658.8 201.9 L661.3 194.5 L663.7 193.9 L666.2 192.6 L666.8 188.1 L668.0 191.4 L669.9 188.3 L671.1 188.1 L673.0 185.9 L674.8 184.4 L678.5 184.7 L679.7 185.9 L680.9 190.8 L684.6 190.8 L687.1 191.8 L688.9 195.5 L690.1 198.5 L691.4 196.7 L692.6 199.8 L695.7 198.5 L696.9 193.6 L698.7 193.0 L700.6 191.2 L703.7 189.3 L706.7 187.5 L708.6 185.6 L712.3 185.0 L712.9 191.8 L714.7 193.0 L716.6 191.8 L717.8 187.5 L719.6 186.2 L722.1 185.6 L724.5 184.4 L727.0 181.3 L728.8 180.5 L730.7 182.6 L733.1 180.7 L735.6 178.9 L738.1 177.0 L740.5 174.6 L743.0 172.7 L744.2 171.5 L745.2 173.3 L746.7 169.7 L749.1 167.2 L752.2 166.0 L755.3 165.4 L757.7 164.7 L758.9 162.3 L760.8 161.7 L762.0 163.5 L763.2 166.0 L766.9 165.4 L773.7 165.4 L774.9 169.7 L776.1 173.3 L778.0 176.4 L780.4 182.0 L782.3 183.8 L784.7 186.2 L787.8 187.5 L789.6 189.3 L791.5 190.5 L793.9 189.9 L795.8 194.2 L796.9 200.4 L797.6 191.8 L798.9 192.4 L800.1 195.5 L801.9 197.3 L803.8 191.8 L805.0 191.8 L806.2 190.5 L808.1 189.3 L809.3 189.9 L810.5 187.5 L812.4 185.6 L814.2 183.2 L816.1 176.4 L817.9 177.6 L820.4 168.4 L821.6 168.4 L822.2 172.7 L823.4 171.5 L825.3 167.8 L828.3 167.2 L830.8 166.6 L835.7 166.0 L842.0 165.7 L844.9 165.1 L851.5 164.4 L856.4 163.9 L861.3 163.1 L863.0 162.3 L868.7 162.8 L869.5 166.4 L870.3 173.0 L872.0 173.0 L872.8 169.7 L874.4 173.0 L879.3 173.8 L882.6 174.6 L884.3 174.3 L885.9 174.6 L887.5 180.3 L889.2 182.0 L891.6 180.3 L892.5 178.7 L893.8 182.8 L895.4 176.2 L897.4 174.6 L898.7 182.8 L899.8 184.4 L903.9 184.4 L905.6 189.3 L907.2 191.8 L909.7 194.3 L911.3 195.1 L913.0 198.4 L914.6 196.7 L916.2 199.2 L917.9 200.8 L921.7 201.7 L926.6 202.2 L927.6 195.2 L928.4 201.9 L930.0 194.6 L930.9 204.4 L932.1 205.6 L933.4 195.2 L935.8 195.8 L937.0 211.8 L938.3 202.6 L940.1 203.2 L940.7 213.0 L948.7 213.0 L949.9 207.5 L951.8 207.5 L952.4 211.8 L953.6 213.0 L954.2 210.5 L955.5 213.6 L958.5 212.4 L960.4 212.4 L961.6 210.5 L963.5 208.1 L964.7 206.9 L965.9 209.9 L967.1 205.6 L969.0 202.6 L970.8 200.1 L973.3 198.9 L975.1 197.0 L977.0 195.2 L978.2 194.6 L979.2 203.2 L980.0 195.8 L981.3 193.3 L982.5 192.7 L983.7 200.7 L984.3 194.0 L985.6 192.1 L986.8 196.4 L988.0 193.3 L990.5 192.7 L993.0 192.1 L995.4 191.5 L999.9 190.6 L1001.6 193.9 L1002.4 197.1 L1003.7 203.7 L1004.9 198.0 L1006.5 193.9 L1007.3 202.9 L1009.0 194.7 L1010.6 198.8 L1012.2 200.4 L1013.9 207.0 L1015.5 211.1 L1018.0 217.6 L1020.4 224.2 L1022.9 230.7 L1024.5 236.0 L1024.9 239.0 L1024.9 348.3 L64.3 348.3 Z" fill="url(#gp)" clip-path="url(#cd)"/>
<path d="M64.3 340.0 L66.0 340.5 L66.4 348.5 L67.2 348.4 L70.2 360.7 L71.3 363.3 L71.8 356.6 L73.3 356.0 L74.3 362.8 L75.4 356.4 L76.4 360.7 L77.9 368.4 L80.5 369.4 L82.0 370.0 L83.6 373.0 L85.1 374.6 L86.6 374.1 L88.7 365.9 L90.7 361.8 L94.8 360.7 L96.9 356.6 L98.4 355.6 L101.0 358.2 L102.5 352.5 L104.1 349.5 L105.6 348.6 L110.2 348.6 L110.7 359.7 L112.3 361.8 L116.4 361.3 L117.4 354.1 L118.9 358.7 L121.5 362.8 L124.5 367.9 L126.6 363.8 L128.6 366.4 L130.7 360.7 L133.8 360.7 L138.0 360.5 L141.1 360.5 L144.1 358.4 L148.2 356.4 L151.3 354.3 L154.4 352.6 L156.4 352.8 L159.5 354.3 L162.6 353.3 L163.6 354.3 L165.2 351.8 L167.7 348.5 L173.9 348.2 L176.9 344.6 L180.0 342.7 L182.6 346.1 L185.1 340.5 L187.2 339.5 L189.2 335.6 L190.3 335.4 L191.3 344.6 L191.8 348.2 L194.4 348.7 L196.4 350.2 L198.5 348.2 L199.5 343.6 L203.6 343.6 L206.6 340.0 L210.7 339.5 L213.8 335.4 L218.0 332.3 L219.5 331.7 L223.0 327.3 L225.6 327.3 L226.8 332.5 L228.2 328.2 L232.6 323.8 L235.2 322.9 L236.6 324.7 L238.6 316.0 L242.1 312.5 L245.6 309.9 L250.0 305.5 L252.6 305.2 L255.2 306.4 L258.7 299.4 L262.2 297.7 L266.5 296.5 L270.0 295.1 L272.6 290.7 L274.4 285.5 L276.1 286.4 L279.6 278.5 L281.3 275.9 L284.8 275.6 L287.4 274.2 L289.2 272.4 L290.9 263.7 L291.8 268.1 L294.4 264.6 L295.6 263.4 L296.5 269.1 L297.3 264.2 L298.9 260.9 L300.2 269.1 L301.4 262.5 L302.5 265.8 L304.2 260.9 L305.5 269.1 L307.1 275.7 L308.8 277.0 L312.0 277.3 L313.7 283.9 L315.0 288.0 L316.1 280.6 L317.0 273.2 L320.2 269.1 L322.7 266.6 L325.1 262.5 L330.1 261.7 L333.3 259.3 L336.3 258.0 L337.0 260.1 L337.6 246.1 L338.3 252.7 L341.5 247.8 L344.8 245.3 L348.1 244.5 L349.4 236.0 L350.6 236.0 L351.4 249.4 L353.0 241.2 L354.7 240.4 L356.3 237.1 L357.1 243.7 L362.9 244.2 L366.1 242.0 L369.4 242.9 L371.9 239.6 L373.7 236.7 L376.4 234.9 L379.0 234.0 L380.7 232.3 L381.6 237.5 L382.5 233.2 L385.1 228.8 L387.7 225.3 L389.4 222.7 L391.2 220.1 L392.9 218.4 L396.4 216.6 L399.9 215.7 L401.6 212.3 L403.4 221.0 L405.1 212.3 L406.8 217.5 L408.6 210.5 L411.2 208.8 L412.4 207.9 L413.5 215.7 L416.4 215.4 L418.2 210.5 L422.5 210.5 L423.9 207.9 L424.8 215.4 L426.0 210.5 L427.7 206.2 L430.4 205.0 L433.8 203.6 L436.5 197.5 L439.1 193.1 L441.7 191.4 L444.3 191.4 L446.0 186.1 L448.7 182.6 L450.0 181.5 L452.5 181.5 L453.7 177.2 L455.5 174.1 L456.4 172.9 L457.4 188.3 L458.6 190.7 L459.6 196.9 L460.4 188.3 L462.3 178.4 L464.1 173.5 L465.7 172.3 L466.6 166.1 L467.4 165.5 L468.4 178.4 L469.7 189.5 L470.9 182.1 L472.1 181.1 L473.3 190.7 L474.6 191.7 L480.7 191.9 L482.6 195.6 L485.6 196.9 L486.9 200.5 L489.1 196.9 L490.5 199.3 L491.8 189.5 L493.0 191.9 L493.6 196.9 L494.2 190.7 L496.1 198.1 L497.3 198.1 L497.9 206.7 L499.1 205.5 L500.4 194.4 L501.6 194.4 L502.8 201.8 L504.1 204.2 L510.2 204.2 L511.4 207.3 L521.3 208.2 L523.1 211.6 L524.9 206.1 L526.8 204.2 L527.6 193.2 L529.2 198.2 L530.5 194.5 L532.9 192.0 L535.1 189.6 L536.6 191.4 L538.4 194.5 L540.3 197.0 L542.1 200.6 L544.6 203.1 L547.7 205.5 L549.5 207.4 L551.3 204.3 L553.2 203.1 L553.8 198.8 L555.6 198.8 L556.9 203.1 L559.9 204.9 L561.8 207.4 L563.0 208.6 L563.6 200.6 L566.1 198.2 L568.5 195.7 L571.0 193.3 L573.5 190.2 L575.3 189.3 L585.7 189.0 L586.7 184.7 L588.2 181.6 L593.1 181.6 L593.7 186.5 L595.0 190.8 L595.8 183.2 L597.0 182.8 L598.0 191.4 L599.9 194.5 L601.7 193.3 L603.6 192.6 L604.4 184.7 L605.4 184.7 L606.0 188.0 L607.2 188.3 L607.8 195.1 L614.0 195.5 L615.8 201.2 L618.3 203.1 L619.5 204.9 L621.4 203.7 L622.2 197.6 L623.8 199.4 L629.3 199.4 L630.6 203.1 L631.8 207.4 L633.6 207.4 L634.5 204.6 L635.5 212.9 L637.3 216.6 L639.2 217.8 L640.4 221.5 L642.2 221.5 L644.1 216.6 L645.3 205.5 L646.5 197.6 L647.8 197.6 L648.4 201.9 L649.6 204.3 L650.8 205.5 L651.7 200.6 L652.7 204.3 L653.3 210.5 L655.1 213.5 L657.0 207.4 L658.8 201.9 L661.3 194.5 L663.7 193.9 L666.2 192.6 L666.8 188.1 L668.0 191.4 L669.9 188.3 L671.1 188.1 L673.0 185.9 L674.8 184.4 L678.5 184.7 L679.7 185.9 L680.9 190.8 L684.6 190.8 L687.1 191.8 L688.9 195.5 L690.1 198.5 L691.4 196.7 L692.6 199.8 L695.7 198.5 L696.9 193.6 L698.7 193.0 L700.6 191.2 L703.7 189.3 L706.7 187.5 L708.6 185.6 L712.3 185.0 L712.9 191.8 L714.7 193.0 L716.6 191.8 L717.8 187.5 L719.6 186.2 L722.1 185.6 L724.5 184.4 L727.0 181.3 L728.8 180.5 L730.7 182.6 L733.1 180.7 L735.6 178.9 L738.1 177.0 L740.5 174.6 L743.0 172.7 L744.2 171.5 L745.2 173.3 L746.7 169.7 L749.1 167.2 L752.2 166.0 L755.3 165.4 L757.7 164.7 L758.9 162.3 L760.8 161.7 L762.0 163.5 L763.2 166.0 L766.9 165.4 L773.7 165.4 L774.9 169.7 L776.1 173.3 L778.0 176.4 L780.4 182.0 L782.3 183.8 L784.7 186.2 L787.8 187.5 L789.6 189.3 L791.5 190.5 L793.9 189.9 L795.8 194.2 L796.9 200.4 L797.6 191.8 L798.9 192.4 L800.1 195.5 L801.9 197.3 L803.8 191.8 L805.0 191.8 L806.2 190.5 L808.1 189.3 L809.3 189.9 L810.5 187.5 L812.4 185.6 L814.2 183.2 L816.1 176.4 L817.9 177.6 L820.4 168.4 L821.6 168.4 L822.2 172.7 L823.4 171.5 L825.3 167.8 L828.3 167.2 L830.8 166.6 L835.7 166.0 L842.0 165.7 L844.9 165.1 L851.5 164.4 L856.4 163.9 L861.3 163.1 L863.0 162.3 L868.7 162.8 L869.5 166.4 L870.3 173.0 L872.0 173.0 L872.8 169.7 L874.4 173.0 L879.3 173.8 L882.6 174.6 L884.3 174.3 L885.9 174.6 L887.5 180.3 L889.2 182.0 L891.6 180.3 L892.5 178.7 L893.8 182.8 L895.4 176.2 L897.4 174.6 L898.7 182.8 L899.8 184.4 L903.9 184.4 L905.6 189.3 L907.2 191.8 L909.7 194.3 L911.3 195.1 L913.0 198.4 L914.6 196.7 L916.2 199.2 L917.9 200.8 L921.7 201.7 L926.6 202.2 L927.6 195.2 L928.4 201.9 L930.0 194.6 L930.9 204.4 L932.1 205.6 L933.4 195.2 L935.8 195.8 L937.0 211.8 L938.3 202.6 L940.1 203.2 L940.7 213.0 L948.7 213.0 L949.9 207.5 L951.8 207.5 L952.4 211.8 L953.6 213.0 L954.2 210.5 L955.5 213.6 L958.5 212.4 L960.4 212.4 L961.6 210.5 L963.5 208.1 L964.7 206.9 L965.9 209.9 L967.1 205.6 L969.0 202.6 L970.8 200.1 L973.3 198.9 L975.1 197.0 L977.0 195.2 L978.2 194.6 L979.2 203.2 L980.0 195.8 L981.3 193.3 L982.5 192.7 L983.7 200.7 L984.3 194.0 L985.6 192.1 L986.8 196.4 L988.0 193.3 L990.5 192.7 L993.0 192.1 L995.4 191.5 L999.9 190.6 L1001.6 193.9 L1002.4 197.1 L1003.7 203.7 L1004.9 198.0 L1006.5 193.9 L1007.3 202.9 L1009.0 194.7 L1010.6 198.8 L1012.2 200.4 L1013.9 207.0 L1015.5 211.1 L1018.0 217.6 L1020.4 224.2 L1022.9 230.7 L1024.5 236.0 L1024.9 239.0" fill="none" stroke="#52bcb7" stroke-width="1" stroke-linejoin="round" clip-path="url(#cu)"/>
<path d="M64.3 340.0 L66.0 340.5 L66.4 348.5 L67.2 348.4 L70.2 360.7 L71.3 363.3 L71.8 356.6 L73.3 356.0 L74.3 362.8 L75.4 356.4 L76.4 360.7 L77.9 368.4 L80.5 369.4 L82.0 370.0 L83.6 373.0 L85.1 374.6 L86.6 374.1 L88.7 365.9 L90.7 361.8 L94.8 360.7 L96.9 356.6 L98.4 355.6 L101.0 358.2 L102.5 352.5 L104.1 349.5 L105.6 348.6 L110.2 348.6 L110.7 359.7 L112.3 361.8 L116.4 361.3 L117.4 354.1 L118.9 358.7 L121.5 362.8 L124.5 367.9 L126.6 363.8 L128.6 366.4 L130.7 360.7 L133.8 360.7 L138.0 360.5 L141.1 360.5 L144.1 358.4 L148.2 356.4 L151.3 354.3 L154.4 352.6 L156.4 352.8 L159.5 354.3 L162.6 353.3 L163.6 354.3 L165.2 351.8 L167.7 348.5 L173.9 348.2 L176.9 344.6 L180.0 342.7 L182.6 346.1 L185.1 340.5 L187.2 339.5 L189.2 335.6 L190.3 335.4 L191.3 344.6 L191.8 348.2 L194.4 348.7 L196.4 350.2 L198.5 348.2 L199.5 343.6 L203.6 343.6 L206.6 340.0 L210.7 339.5 L213.8 335.4 L218.0 332.3 L219.5 331.7 L223.0 327.3 L225.6 327.3 L226.8 332.5 L228.2 328.2 L232.6 323.8 L235.2 322.9 L236.6 324.7 L238.6 316.0 L242.1 312.5 L245.6 309.9 L250.0 305.5 L252.6 305.2 L255.2 306.4 L258.7 299.4 L262.2 297.7 L266.5 296.5 L270.0 295.1 L272.6 290.7 L274.4 285.5 L276.1 286.4 L279.6 278.5 L281.3 275.9 L284.8 275.6 L287.4 274.2 L289.2 272.4 L290.9 263.7 L291.8 268.1 L294.4 264.6 L295.6 263.4 L296.5 269.1 L297.3 264.2 L298.9 260.9 L300.2 269.1 L301.4 262.5 L302.5 265.8 L304.2 260.9 L305.5 269.1 L307.1 275.7 L308.8 277.0 L312.0 277.3 L313.7 283.9 L315.0 288.0 L316.1 280.6 L317.0 273.2 L320.2 269.1 L322.7 266.6 L325.1 262.5 L330.1 261.7 L333.3 259.3 L336.3 258.0 L337.0 260.1 L337.6 246.1 L338.3 252.7 L341.5 247.8 L344.8 245.3 L348.1 244.5 L349.4 236.0 L350.6 236.0 L351.4 249.4 L353.0 241.2 L354.7 240.4 L356.3 237.1 L357.1 243.7 L362.9 244.2 L366.1 242.0 L369.4 242.9 L371.9 239.6 L373.7 236.7 L376.4 234.9 L379.0 234.0 L380.7 232.3 L381.6 237.5 L382.5 233.2 L385.1 228.8 L387.7 225.3 L389.4 222.7 L391.2 220.1 L392.9 218.4 L396.4 216.6 L399.9 215.7 L401.6 212.3 L403.4 221.0 L405.1 212.3 L406.8 217.5 L408.6 210.5 L411.2 208.8 L412.4 207.9 L413.5 215.7 L416.4 215.4 L418.2 210.5 L422.5 210.5 L423.9 207.9 L424.8 215.4 L426.0 210.5 L427.7 206.2 L430.4 205.0 L433.8 203.6 L436.5 197.5 L439.1 193.1 L441.7 191.4 L444.3 191.4 L446.0 186.1 L448.7 182.6 L450.0 181.5 L452.5 181.5 L453.7 177.2 L455.5 174.1 L456.4 172.9 L457.4 188.3 L458.6 190.7 L459.6 196.9 L460.4 188.3 L462.3 178.4 L464.1 173.5 L465.7 172.3 L466.6 166.1 L467.4 165.5 L468.4 178.4 L469.7 189.5 L470.9 182.1 L472.1 181.1 L473.3 190.7 L474.6 191.7 L480.7 191.9 L482.6 195.6 L485.6 196.9 L486.9 200.5 L489.1 196.9 L490.5 199.3 L491.8 189.5 L493.0 191.9 L493.6 196.9 L494.2 190.7 L496.1 198.1 L497.3 198.1 L497.9 206.7 L499.1 205.5 L500.4 194.4 L501.6 194.4 L502.8 201.8 L504.1 204.2 L510.2 204.2 L511.4 207.3 L521.3 208.2 L523.1 211.6 L524.9 206.1 L526.8 204.2 L527.6 193.2 L529.2 198.2 L530.5 194.5 L532.9 192.0 L535.1 189.6 L536.6 191.4 L538.4 194.5 L540.3 197.0 L542.1 200.6 L544.6 203.1 L547.7 205.5 L549.5 207.4 L551.3 204.3 L553.2 203.1 L553.8 198.8 L555.6 198.8 L556.9 203.1 L559.9 204.9 L561.8 207.4 L563.0 208.6 L563.6 200.6 L566.1 198.2 L568.5 195.7 L571.0 193.3 L573.5 190.2 L575.3 189.3 L585.7 189.0 L586.7 184.7 L588.2 181.6 L593.1 181.6 L593.7 186.5 L595.0 190.8 L595.8 183.2 L597.0 182.8 L598.0 191.4 L599.9 194.5 L601.7 193.3 L603.6 192.6 L604.4 184.7 L605.4 184.7 L606.0 188.0 L607.2 188.3 L607.8 195.1 L614.0 195.5 L615.8 201.2 L618.3 203.1 L619.5 204.9 L621.4 203.7 L622.2 197.6 L623.8 199.4 L629.3 199.4 L630.6 203.1 L631.8 207.4 L633.6 207.4 L634.5 204.6 L635.5 212.9 L637.3 216.6 L639.2 217.8 L640.4 221.5 L642.2 221.5 L644.1 216.6 L645.3 205.5 L646.5 197.6 L647.8 197.6 L648.4 201.9 L649.6 204.3 L650.8 205.5 L651.7 200.6 L652.7 204.3 L653.3 210.5 L655.1 213.5 L657.0 207.4 L658.8 201.9 L661.3 194.5 L663.7 193.9 L666.2 192.6 L666.8 188.1 L668.0 191.4 L669.9 188.3 L671.1 188.1 L673.0 185.9 L674.8 184.4 L678.5 184.7 L679.7 185.9 L680.9 190.8 L684.6 190.8 L687.1 191.8 L688.9 195.5 L690.1 198.5 L691.4 196.7 L692.6 199.8 L695.7 198.5 L696.9 193.6 L698.7 193.0 L700.6 191.2 L703.7 189.3 L706.7 187.5 L708.6 185.6 L712.3 185.0 L712.9 191.8 L714.7 193.0 L716.6 191.8 L717.8 187.5 L719.6 186.2 L722.1 185.6 L724.5 184.4 L727.0 181.3 L728.8 180.5 L730.7 182.6 L733.1 180.7 L735.6 178.9 L738.1 177.0 L740.5 174.6 L743.0 172.7 L744.2 171.5 L745.2 173.3 L746.7 169.7 L749.1 167.2 L752.2 166.0 L755.3 165.4 L757.7 164.7 L758.9 162.3 L760.8 161.7 L762.0 163.5 L763.2 166.0 L766.9 165.4 L773.7 165.4 L774.9 169.7 L776.1 173.3 L778.0 176.4 L780.4 182.0 L782.3 183.8 L784.7 186.2 L787.8 187.5 L789.6 189.3 L791.5 190.5 L793.9 189.9 L795.8 194.2 L796.9 200.4 L797.6 191.8 L798.9 192.4 L800.1 195.5 L801.9 197.3 L803.8 191.8 L805.0 191.8 L806.2 190.5 L808.1 189.3 L809.3 189.9 L810.5 187.5 L812.4 185.6 L814.2 183.2 L816.1 176.4 L817.9 177.6 L820.4 168.4 L821.6 168.4 L822.2 172.7 L823.4 171.5 L825.3 167.8 L828.3 167.2 L830.8 166.6 L835.7 166.0 L842.0 165.7 L844.9 165.1 L851.5 164.4 L856.4 163.9 L861.3 163.1 L863.0 162.3 L868.7 162.8 L869.5 166.4 L870.3 173.0 L872.0 173.0 L872.8 169.7 L874.4 173.0 L879.3 173.8 L882.6 174.6 L884.3 174.3 L885.9 174.6 L887.5 180.3 L889.2 182.0 L891.6 180.3 L892.5 178.7 L893.8 182.8 L895.4 176.2 L897.4 174.6 L898.7 182.8 L899.8 184.4 L903.9 184.4 L905.6 189.3 L907.2 191.8 L909.7 194.3 L911.3 195.1 L913.0 198.4 L914.6 196.7 L916.2 199.2 L917.9 200.8 L921.7 201.7 L926.6 202.2 L927.6 195.2 L928.4 201.9 L930.0 194.6 L930.9 204.4 L932.1 205.6 L933.4 195.2 L935.8 195.8 L937.0 211.8 L938.3 202.6 L940.1 203.2 L940.7 213.0 L948.7 213.0 L949.9 207.5 L951.8 207.5 L952.4 211.8 L953.6 213.0 L954.2 210.5 L955.5 213.6 L958.5 212.4 L960.4 212.4 L961.6 210.5 L963.5 208.1 L964.7 206.9 L965.9 209.9 L967.1 205.6 L969.0 202.6 L970.8 200.1 L973.3 198.9 L975.1 197.0 L977.0 195.2 L978.2 194.6 L979.2 203.2 L980.0 195.8 L981.3 193.3 L982.5 192.7 L983.7 200.7 L984.3 194.0 L985.6 192.1 L986.8 196.4 L988.0 193.3 L990.5 192.7 L993.0 192.1 L995.4 191.5 L999.9 190.6 L1001.6 193.9 L1002.4 197.1 L1003.7 203.7 L1004.9 198.0 L1006.5 193.9 L1007.3 202.9 L1009.0 194.7 L1010.6 198.8 L1012.2 200.4 L1013.9 207.0 L1015.5 211.1 L1018.0 217.6 L1020.4 224.2 L1022.9 230.7 L1024.5 236.0 L1024.9 239.0" fill="none" stroke="#e2346c" stroke-width="1.1" stroke-linejoin="round" clip-path="url(#cd)"/>
<line x1="64.5" y1="348.5" x2="1024.9" y2="348.5" stroke="#666" stroke-dasharray="2,2.5" stroke-width="1" stroke-opacity="0.85"/>
<line x1="64.5" y1="275.5" x2="1024.9" y2="275.5" stroke="#666" stroke-dasharray="2,2.5" stroke-width="1" stroke-opacity="0.85"/>
<line x1="826.5" y1="148.2" x2="826.5" y2="387.4" stroke="#666" stroke-dasharray="2,2.5" stroke-width="1" stroke-opacity="0.85"/>
<text transform="translate(72.3,396.5) rotate(-90)" font-size="9" fill="#4a4a4a" text-anchor="end">08:00:22</text>
<text transform="translate(85.6,396.5) rotate(-90)" font-size="9" fill="#4a4a4a" text-anchor="end">08:09:45</text>
<text transform="translate(99.0,396.5) rotate(-90)" font-size="9" fill="#4a4a4a" text-anchor="end">08:13:47</text>
<text transform="translate(112.3,396.5) rotate(-90)" font-size="9" fill="#4a4a4a" text-anchor="end">08:17:14</text>
<text transform="translate(125.7,396.5) rotate(-90)" font-size="9" fill="#4a4a4a" text-anchor="end">08:23:20</text>
<text transform="translate(139.1,396.5) rotate(-90)" font-size="9" fill="#4a4a4a" text-anchor="end">08:26:35</text>
<text transform="translate(152.4,396.5) rotate(-90)" font-size="9" fill="#4a4a4a" text-anchor="end">08:27:14</text>
<text transform="translate(165.8,396.5) rotate(-90)" font-size="9" fill="#4a4a4a" text-anchor="end">08:28:04</text>
<text transform="translate(179.1,396.5) rotate(-90)" font-size="9" fill="#4a4a4a" text-anchor="end">08:30:33</text>
<text transform="translate(192.4,396.5) rotate(-90)" font-size="9" fill="#4a4a4a" text-anchor="end">08:32:33</text>
<text transform="translate(205.8,396.5) rotate(-90)" font-size="9" fill="#4a4a4a" text-anchor="end">08:35:51</text>
<text transform="translate(219.1,396.5) rotate(-90)" font-size="9" fill="#4a4a4a" text-anchor="end">08:37:07</text>
<text transform="translate(232.5,396.5) rotate(-90)" font-size="9" fill="#4a4a4a" text-anchor="end">08:39:52</text>
<text transform="translate(245.8,396.5) rotate(-90)" font-size="9" fill="#4a4a4a" text-anchor="end">08:44:13</text>
<text transform="translate(259.2,396.5) rotate(-90)" font-size="9" fill="#4a4a4a" text-anchor="end">08:45:10</text>
<text transform="translate(272.6,396.5) rotate(-90)" font-size="9" fill="#4a4a4a" text-anchor="end">08:46:52</text>
<text transform="translate(285.9,396.5) rotate(-90)" font-size="9" fill="#4a4a4a" text-anchor="end">08:48:01</text>
<text transform="translate(299.2,396.5) rotate(-90)" font-size="9" fill="#4a4a4a" text-anchor="end">08:50:22</text>
<text transform="translate(312.6,396.5) rotate(-90)" font-size="9" fill="#4a4a4a" text-anchor="end">08:51:54</text>
<text transform="translate(325.9,396.5) rotate(-90)" font-size="9" fill="#4a4a4a" text-anchor="end">09:00:40</text>
<text transform="translate(339.3,396.5) rotate(-90)" font-size="9" fill="#4a4a4a" text-anchor="end">09:03:01</text>
<text transform="translate(352.6,396.5) rotate(-90)" font-size="9" fill="#4a4a4a" text-anchor="end">09:03:03</text>
<text transform="translate(366.0,396.5) rotate(-90)" font-size="9" fill="#4a4a4a" text-anchor="end">09:06:50</text>
<text transform="translate(379.4,396.5) rotate(-90)" font-size="9" fill="#4a4a4a" text-anchor="end">09:10:07</text>
<text transform="translate(392.7,396.5) rotate(-90)" font-size="9" fill="#4a4a4a" text-anchor="end">09:12:53</text>
<text transform="translate(406.1,396.5) rotate(-90)" font-size="9" fill="#4a4a4a" text-anchor="end">09:13:25</text>
<text transform="translate(419.4,396.5) rotate(-90)" font-size="9" fill="#4a4a4a" text-anchor="end">09:15:25</text>
<text transform="translate(432.8,396.5) rotate(-90)" font-size="9" fill="#4a4a4a" text-anchor="end">09:17:31</text>
<text transform="translate(446.1,396.5) rotate(-90)" font-size="9" fill="#4a4a4a" text-anchor="end">09:19:02</text>
<text transform="translate(459.4,396.5) rotate(-90)" font-size="9" fill="#4a4a4a" text-anchor="end">09:20:50</text>
<text transform="translate(472.8,396.5) rotate(-90)" font-size="9" fill="#4a4a4a" text-anchor="end">09:24:08</text>
<text transform="translate(486.1,396.5) rotate(-90)" font-size="9" fill="#4a4a4a" text-anchor="end">09:27:20</text>
<text transform="translate(499.5,396.5) rotate(-90)" font-size="9" fill="#4a4a4a" text-anchor="end">09:28:59</text>
<text transform="translate(512.9,396.5) rotate(-90)" font-size="9" fill="#4a4a4a" text-anchor="end">09:39:24</text>
<text transform="translate(526.2,396.5) rotate(-90)" font-size="9" fill="#4a4a4a" text-anchor="end">09:41:13</text>
<text transform="translate(539.5,396.5) rotate(-90)" font-size="9" fill="#4a4a4a" text-anchor="end">09:48:14</text>
<text transform="translate(552.9,396.5) rotate(-90)" font-size="9" fill="#4a4a4a" text-anchor="end">09:52:09</text>
<text transform="translate(566.2,396.5) rotate(-90)" font-size="9" fill="#4a4a4a" text-anchor="end">09:57:03</text>
<text transform="translate(579.6,396.5) rotate(-90)" font-size="9" fill="#4a4a4a" text-anchor="end">10:01:22</text>
<text transform="translate(592.9,396.5) rotate(-90)" font-size="9" fill="#4a4a4a" text-anchor="end">10:02:51</text>
<text transform="translate(606.3,396.5) rotate(-90)" font-size="9" fill="#4a4a4a" text-anchor="end">10:09:31</text>
<text transform="translate(619.6,396.5) rotate(-90)" font-size="9" fill="#4a4a4a" text-anchor="end">10:12:02</text>
<text transform="translate(633.0,396.5) rotate(-90)" font-size="9" fill="#4a4a4a" text-anchor="end">10:16:39</text>
<text transform="translate(646.3,396.5) rotate(-90)" font-size="9" fill="#4a4a4a" text-anchor="end">10:20:15</text>
<text transform="translate(659.7,396.5) rotate(-90)" font-size="9" fill="#4a4a4a" text-anchor="end">10:27:30</text>
<text transform="translate(673.0,396.5) rotate(-90)" font-size="9" fill="#4a4a4a" text-anchor="end">10:37:26</text>
<text transform="translate(686.4,396.5) rotate(-90)" font-size="9" fill="#4a4a4a" text-anchor="end">10:38:29</text>
<text transform="translate(699.7,396.5) rotate(-90)" font-size="9" fill="#4a4a4a" text-anchor="end">10:45:09</text>
<text transform="translate(713.1,396.5) rotate(-90)" font-size="9" fill="#4a4a4a" text-anchor="end">10:49:58</text>
<text transform="translate(726.4,396.5) rotate(-90)" font-size="9" fill="#4a4a4a" text-anchor="end">10:56:19</text>
<text transform="translate(739.8,396.5) rotate(-90)" font-size="9" fill="#4a4a4a" text-anchor="end">11:00:14</text>
<text transform="translate(753.1,396.5) rotate(-90)" font-size="9" fill="#4a4a4a" text-anchor="end">11:02:26</text>
<text transform="translate(766.5,396.5) rotate(-90)" font-size="9" fill="#4a4a4a" text-anchor="end">11:02:33</text>
<text transform="translate(779.8,396.5) rotate(-90)" font-size="9" fill="#4a4a4a" text-anchor="end">11:07:37</text>
<text transform="translate(793.2,396.5) rotate(-90)" font-size="9" fill="#4a4a4a" text-anchor="end">11:15:06</text>
<text transform="translate(806.5,396.5) rotate(-90)" font-size="9" fill="#4a4a4a" text-anchor="end">11:16:33</text>
<text transform="translate(819.9,396.5) rotate(-90)" font-size="9" fill="#4a4a4a" text-anchor="end">11:21:33</text>
<text transform="translate(833.2,396.5) rotate(-90)" font-size="9" fill="#4a4a4a" text-anchor="end">11:22:45</text>
<text transform="translate(846.6,396.5) rotate(-90)" font-size="9" fill="#4a4a4a" text-anchor="end">11:27:01</text>
<text transform="translate(859.9,396.5) rotate(-90)" font-size="9" fill="#4a4a4a" text-anchor="end">11:27:22</text>
<text transform="translate(873.3,396.5) rotate(-90)" font-size="9" fill="#4a4a4a" text-anchor="end">11:30:28</text>
<text transform="translate(886.6,396.5) rotate(-90)" font-size="9" fill="#4a4a4a" text-anchor="end">11:34:42</text>
<text transform="translate(900.0,396.5) rotate(-90)" font-size="9" fill="#4a4a4a" text-anchor="end">11:36:02</text>
<text transform="translate(913.3,396.5) rotate(-90)" font-size="9" fill="#4a4a4a" text-anchor="end">11:43:48</text>
<text transform="translate(926.7,396.5) rotate(-90)" font-size="9" fill="#4a4a4a" text-anchor="end">11:47:05</text>
<text transform="translate(940.0,396.5) rotate(-90)" font-size="9" fill="#4a4a4a" text-anchor="end">11:49:21</text>
<text transform="translate(953.4,396.5) rotate(-90)" font-size="9" fill="#4a4a4a" text-anchor="end">11:58:36</text>
<text transform="translate(966.7,396.5) rotate(-90)" font-size="9" fill="#4a4a4a" text-anchor="end">12:07:53</text>
<text transform="translate(980.1,396.5) rotate(-90)" font-size="9" fill="#4a4a4a" text-anchor="end">12:24:34</text>
<text transform="translate(993.4,396.5) rotate(-90)" font-size="9" fill="#4a4a4a" text-anchor="end">12:31:46</text>
<text transform="translate(1006.8,396.5) rotate(-90)" font-size="9" fill="#4a4a4a" text-anchor="end">12:33:15</text>
<text transform="translate(1020.1,396.5) rotate(-90)" font-size="9" fill="#4a4a4a" text-anchor="end">12:53:56</text>
<path d="M64.5 388V393M78.5 388V393M91.5 388V393M104.5 388V393M118.5 388V393M131.5 388V393M144.5 388V393M158.5 388V393M171.5 388V393M184.5 388V393M198.5 388V393M211.5 388V393M224.5 388V393M238.5 388V393M251.5 388V393M265.5 388V393M278.5 388V393M291.5 388V393M305.5 388V393M318.5 388V393M331.5 388V393M345.5 388V393M358.5 388V393M371.5 388V393M385.5 388V393M398.5 388V393M411.5 388V393M425.5 388V393M438.5 388V393M451.5 388V393M465.5 388V393M478.5 388V393M492.5 388V393M505.5 388V393M518.5 388V393M532.5 388V393M545.5 388V393M558.5 388V393M572.5 388V393M585.5 388V393M598.5 388V393M612.5 388V393M625.5 388V393M638.5 388V393M652.5 388V393M665.5 388V393M678.5 388V393M692.5 388V393M705.5 388V393M718.5 388V393M732.5 388V393M745.5 388V393M758.5 388V393M772.5 388V393M785.5 388V393M799.5 388V393M812.5 388V393M825.5 388V393M839.5 388V393M852.5 388V393M865.5 388V393M879.5 388V393M892.5 388V393M905.5 388V393M919.5 388V393M932.5 388V393M945.5 388V393M959.5 388V393M972.5 388V393M985.5 388V393M999.5 388V393M1012.5 388V393" stroke="#e2e2e2" stroke-width="1"/>
<rect x="19" y="268.1" width="45" height="14.4" fill="#747474"/>
<text x="41.4" y="277.8" font-size="9.2" font-weight="bold" fill="#fff" text-anchor="middle">4007.99</text>
<rect x="19" y="340.8" width="45" height="14.8" fill="#686868"/>
<text x="41.6" y="351.1" font-size="9.3" font-weight="bold" fill="#fff" text-anchor="middle">3980.00</text>
<rect x="806" y="387" width="42" height="14.5" fill="#7a7a7a"/>
<text x="827.2" y="397" font-size="9" fill="#fff" text-anchor="middle">11:22:45</text>
<rect x="841" y="214" width="114" height="47" fill="#6d6d6d" fill-opacity="0.76"/><path d="M954.5 214V260.5H841" fill="none" stroke="#000" stroke-opacity="0.12"/>
<text x="846" y="224.6" font-size="9" font-weight="bold" fill="#fff">12/6/2024</text>
<text x="950.6" y="224.6" font-size="8" fill="#ddd" text-anchor="end">11:22:45</text>
<text x="846" y="240" font-size="9" fill="#ddd">Precios: <tspan font-weight="bold" fill="#fff">$4049</tspan></text>
<text x="846" y="254.7" font-size="9" fill="#ddd">Montos: <tspan font-weight="bold" fill="#fff" dx="4">500</tspan></text>
<path d="M64.3 468.3 L66.0 468.4 L66.4 469.2 L67.2 469.2 L70.2 470.5 L71.3 470.8 L71.8 470.1 L73.3 470.0 L74.3 470.8 L75.4 470.1 L76.4 470.5 L77.9 471.4 L80.5 471.5 L82.0 471.5 L83.6 471.9 L85.1 472.0 L86.6 472.0 L88.7 471.1 L90.7 470.7 L94.8 470.5 L96.9 470.1 L98.4 470.0 L101.0 470.3 L102.5 469.7 L104.1 469.3 L105.6 469.2 L110.2 469.2 L110.7 470.4 L112.3 470.7 L116.4 470.6 L117.4 469.8 L118.9 470.3 L121.5 470.8 L124.5 471.3 L126.6 470.9 L128.6 471.2 L130.7 470.5 L133.8 470.5 L138.0 470.5 L141.1 470.5 L144.1 470.3 L148.2 470.1 L151.3 469.9 L154.4 469.7 L156.4 469.7 L159.5 469.9 L162.6 469.7 L163.6 469.9 L165.2 469.6 L167.7 469.2 L173.9 469.2 L176.9 468.8 L180.0 468.6 L182.6 469.0 L185.1 468.4 L187.2 468.3 L189.2 467.8 L190.3 467.8 L191.3 468.8 L191.8 469.2 L194.4 469.3 L196.4 469.4 L198.5 469.2 L199.5 468.7 L203.6 468.7 L206.6 468.3 L210.7 468.3 L213.8 467.8 L218.0 467.5 L219.5 467.4 L223.0 467.0 L225.6 467.0 L226.8 467.5 L228.2 467.1 L232.6 466.6 L235.2 466.5 L236.6 466.7 L238.6 465.7 L242.1 465.4 L245.6 465.1 L250.0 464.6 L252.6 464.6 L255.2 464.7 L258.7 464.0 L262.2 463.8 L266.5 463.6 L270.0 463.5 L272.6 463.0 L274.4 462.5 L276.1 462.6 L279.6 461.7 L281.3 461.4 L284.8 461.4 L287.4 461.3 L289.2 461.1 L290.9 460.1 L291.8 460.6 L294.4 460.2 L295.6 460.1 L296.5 460.7 L297.3 460.2 L298.9 459.8 L300.2 460.7 L301.4 460.0 L302.5 460.4 L304.2 459.8 L305.5 460.7 L307.1 461.4 L308.8 461.6 L312.0 461.6 L313.7 462.3 L315.0 462.7 L316.1 461.9 L317.0 461.1 L320.2 460.7 L322.7 460.4 L325.1 460.0 L330.1 459.9 L333.3 459.7 L336.3 459.5 L337.0 459.7 L337.6 458.2 L338.3 458.9 L341.5 458.4 L344.8 458.2 L348.1 458.1 L349.4 457.2 L350.6 457.2 L351.4 458.6 L353.0 457.7 L354.7 457.6 L356.3 457.3 L357.1 458.0 L362.9 458.0 L366.1 457.8 L369.4 457.9 L371.9 457.5 L373.7 457.2 L376.4 457.0 L379.0 456.9 L380.7 456.8 L381.6 457.3 L382.5 456.9 L385.1 456.4 L387.7 456.0 L389.4 455.7 L391.2 455.5 L392.9 455.3 L396.4 455.1 L399.9 455.0 L401.6 454.6 L403.4 455.5 L405.1 454.6 L406.8 455.2 L408.6 454.4 L411.2 454.2 L412.4 454.1 L413.5 455.0 L416.4 454.9 L418.2 454.4 L422.5 454.4 L423.9 454.1 L424.8 454.9 L426.0 454.4 L427.7 454.0 L430.4 453.8 L433.8 453.7 L436.5 453.0 L439.1 452.6 L441.7 452.4 L444.3 452.4 L446.0 451.8 L448.7 451.4 L450.0 451.3 L452.5 451.3 L453.7 450.8 L455.5 450.5 L456.4 450.4 L457.4 452.0 L458.6 452.3 L459.6 453.0 L460.4 452.0 L462.3 451.0 L464.1 450.5 L465.7 450.3 L466.6 449.7 L467.4 449.6 L468.4 451.0 L469.7 452.2 L470.9 451.4 L472.1 451.3 L473.3 452.3 L474.6 452.4 L480.7 452.4 L482.6 452.8 L485.6 453.0 L486.9 453.3 L489.1 453.0 L490.5 453.2 L491.8 452.2 L493.0 452.4 L493.6 453.0 L494.2 452.3 L496.1 453.1 L497.3 453.1 L497.9 454.0 L499.1 453.9 L500.4 452.7 L501.6 452.7 L502.8 453.5 L504.1 453.7 L510.2 453.7 L511.4 454.1 L521.3 454.2 L523.1 454.5 L524.9 453.9 L526.8 453.7 L527.6 452.6 L529.2 453.1 L530.5 452.7 L532.9 452.4 L535.1 452.2 L536.6 452.4 L538.4 452.7 L540.3 453.0 L542.1 453.4 L544.6 453.6 L547.7 453.9 L549.5 454.1 L551.3 453.8 L553.2 453.6 L553.8 453.2 L555.6 453.2 L556.9 453.6 L559.9 453.8 L561.8 454.1 L563.0 454.2 L563.6 453.4 L566.1 453.1 L568.5 452.8 L571.0 452.6 L573.5 452.2 L575.3 452.1 L585.7 452.1 L586.7 451.7 L588.2 451.3 L593.1 451.3 L593.7 451.8 L595.0 452.3 L595.8 451.5 L597.0 451.4 L598.0 452.4 L599.9 452.7 L601.7 452.6 L603.6 452.5 L604.4 451.7 L605.4 451.7 L606.0 452.0 L607.2 452.0 L607.8 452.8 L614.0 452.8 L615.8 453.4 L618.3 453.6 L619.5 453.8 L621.4 453.7 L622.2 453.0 L623.8 453.2 L629.3 453.2 L630.6 453.6 L631.8 454.1 L633.6 454.1 L634.5 453.8 L635.5 454.7 L637.3 455.1 L639.2 455.2 L640.4 455.6 L642.2 455.6 L644.1 455.1 L645.3 453.9 L646.5 453.0 L647.8 453.0 L648.4 453.5 L649.6 453.8 L650.8 453.9 L651.7 453.4 L652.7 453.8 L653.3 454.4 L655.1 454.7 L657.0 454.1 L658.8 453.5 L661.3 452.7 L663.7 452.6 L666.2 452.5 L666.8 452.0 L668.0 452.4 L669.9 452.0 L671.1 452.0 L673.0 451.8 L674.8 451.6 L678.5 451.7 L679.7 451.8 L680.9 452.3 L684.6 452.3 L687.1 452.4 L688.9 452.8 L690.1 453.1 L691.4 452.9 L692.6 453.3 L695.7 453.1 L696.9 452.6 L698.7 452.5 L700.6 452.4 L703.7 452.1 L706.7 452.0 L708.6 451.7 L712.3 451.7 L712.9 452.4 L714.7 452.5 L716.6 452.4 L717.8 452.0 L719.6 451.8 L722.1 451.7 L724.5 451.6 L727.0 451.3 L728.8 451.2 L730.7 451.4 L733.1 451.2 L735.6 451.0 L738.1 450.8 L740.5 450.6 L743.0 450.4 L744.2 450.2 L745.2 450.4 L746.7 450.0 L749.1 449.8 L752.2 449.6 L755.3 449.6 L757.7 449.5 L758.9 449.2 L760.8 449.2 L762.0 449.4 L763.2 449.6 L766.9 449.6 L773.7 449.6 L774.9 450.0 L776.1 450.4 L778.0 450.8 L780.4 451.4 L782.3 451.6 L784.7 451.8 L787.8 452.0 L789.6 452.1 L791.5 452.3 L793.9 452.2 L795.8 452.7 L796.9 453.3 L797.6 452.4 L798.9 452.5 L800.1 452.8 L801.9 453.0 L803.8 452.4 L805.0 452.4 L806.2 452.3 L808.1 452.1 L809.3 452.2 L810.5 452.0 L812.4 451.7 L814.2 451.5 L816.1 450.8 L817.9 450.9 L820.4 449.9 L821.6 449.9 L822.2 450.4 L823.4 450.2 L825.3 449.8 L828.3 449.8 L830.8 449.7 L835.7 449.6 L842.0 449.6 L844.9 449.6 L851.5 449.5 L856.4 449.4 L861.3 449.3 L863.0 449.2 L868.7 449.3 L869.5 449.7 L870.3 450.4 L872.0 450.4 L872.8 450.0 L874.4 450.4 L879.3 450.5 L882.6 450.6 L884.3 450.5 L885.9 450.6 L887.5 451.2 L889.2 451.4 L891.6 451.2 L892.5 451.0 L893.8 451.4 L895.4 450.7 L897.4 450.6 L898.7 451.4 L899.8 451.6 L903.9 451.6 L905.6 452.1 L907.2 452.4 L909.7 452.7 L911.3 452.8 L913.0 453.1 L914.6 452.9 L916.2 453.2 L917.9 453.4 L921.7 453.5 L926.6 453.5 L927.6 452.8 L928.4 453.5 L930.0 452.7 L930.9 453.8 L932.1 453.9 L933.4 452.8 L935.8 452.8 L937.0 454.6 L938.3 453.6 L940.1 453.6 L940.7 454.7 L948.7 454.7 L949.9 454.1 L951.8 454.1 L952.4 454.6 L953.6 454.7 L954.2 454.4 L955.5 454.8 L958.5 454.6 L960.4 454.6 L961.6 454.4 L963.5 454.2 L964.7 454.0 L965.9 454.4 L967.1 453.9 L969.0 453.6 L970.8 453.3 L973.3 453.2 L975.1 453.0 L977.0 452.8 L978.2 452.7 L979.2 453.6 L980.0 452.8 L981.3 452.6 L982.5 452.5 L983.7 453.4 L984.3 452.7 L985.6 452.4 L986.8 452.9 L988.0 452.6 L990.5 452.5 L993.0 452.4 L995.4 452.4 L999.9 452.3 L1001.6 452.6 L1002.4 453.0 L1003.7 453.7 L1004.9 453.1 L1006.5 452.6 L1007.3 453.6 L1009.0 452.7 L1010.6 453.2 L1012.2 453.3 L1013.9 454.0 L1015.5 454.5 L1018.0 455.2 L1020.4 455.9 L1022.9 456.6 L1024.5 457.2 L1024.9 457.5 L1024.9 478.0 L64.3 478.0 Z" fill="#d3e8f9"/>
<path d="M64.3 468.3 L66.0 468.4 L66.4 469.2 L67.2 469.2 L70.2 470.5 L71.3 470.8 L71.8 470.1 L73.3 470.0 L74.3 470.8 L75.4 470.1 L76.4 470.5 L77.9 471.4 L80.5 471.5 L82.0 471.5 L83.6 471.9 L85.1 472.0 L86.6 472.0 L88.7 471.1 L90.7 470.7 L94.8 470.5 L96.9 470.1 L98.4 470.0 L101.0 470.3 L102.5 469.7 L104.1 469.3 L105.6 469.2 L110.2 469.2 L110.7 470.4 L112.3 470.7 L116.4 470.6 L117.4 469.8 L118.9 470.3 L121.5 470.8 L124.5 471.3 L126.6 470.9 L128.6 471.2 L130.7 470.5 L133.8 470.5 L138.0 470.5 L141.1 470.5 L144.1 470.3 L148.2 470.1 L151.3 469.9 L154.4 469.7 L156.4 469.7 L159.5 469.9 L162.6 469.7 L163.6 469.9 L165.2 469.6 L167.7 469.2 L173.9 469.2 L176.9 468.8 L180.0 468.6 L182.6 469.0 L185.1 468.4 L187.2 468.3 L189.2 467.8 L190.3 467.8 L191.3 468.8 L191.8 469.2 L194.4 469.3 L196.4 469.4 L198.5 469.2 L199.5 468.7 L203.6 468.7 L206.6 468.3 L210.7 468.3 L213.8 467.8 L218.0 467.5 L219.5 467.4 L223.0 467.0 L225.6 467.0 L226.8 467.5 L228.2 467.1 L232.6 466.6 L235.2 466.5 L236.6 466.7 L238.6 465.7 L242.1 465.4 L245.6 465.1 L250.0 464.6 L252.6 464.6 L255.2 464.7 L258.7 464.0 L262.2 463.8 L266.5 463.6 L270.0 463.5 L272.6 463.0 L274.4 462.5 L276.1 462.6 L279.6 461.7 L281.3 461.4 L284.8 461.4 L287.4 461.3 L289.2 461.1 L290.9 460.1 L291.8 460.6 L294.4 460.2 L295.6 460.1 L296.5 460.7 L297.3 460.2 L298.9 459.8 L300.2 460.7 L301.4 460.0 L302.5 460.4 L304.2 459.8 L305.5 460.7 L307.1 461.4 L308.8 461.6 L312.0 461.6 L313.7 462.3 L315.0 462.7 L316.1 461.9 L317.0 461.1 L320.2 460.7 L322.7 460.4 L325.1 460.0 L330.1 459.9 L333.3 459.7 L336.3 459.5 L337.0 459.7 L337.6 458.2 L338.3 458.9 L341.5 458.4 L344.8 458.2 L348.1 458.1 L349.4 457.2 L350.6 457.2 L351.4 458.6 L353.0 457.7 L354.7 457.6 L356.3 457.3 L357.1 458.0 L362.9 458.0 L366.1 457.8 L369.4 457.9 L371.9 457.5 L373.7 457.2 L376.4 457.0 L379.0 456.9 L380.7 456.8 L381.6 457.3 L382.5 456.9 L385.1 456.4 L387.7 456.0 L389.4 455.7 L391.2 455.5 L392.9 455.3 L396.4 455.1 L399.9 455.0 L401.6 454.6 L403.4 455.5 L405.1 454.6 L406.8 455.2 L408.6 454.4 L411.2 454.2 L412.4 454.1 L413.5 455.0 L416.4 454.9 L418.2 454.4 L422.5 454.4 L423.9 454.1 L424.8 454.9 L426.0 454.4 L427.7 454.0 L430.4 453.8 L433.8 453.7 L436.5 453.0 L439.1 452.6 L441.7 452.4 L444.3 452.4 L446.0 451.8 L448.7 451.4 L450.0 451.3 L452.5 451.3 L453.7 450.8 L455.5 450.5 L456.4 450.4 L457.4 452.0 L458.6 452.3 L459.6 453.0 L460.4 452.0 L462.3 451.0 L464.1 450.5 L465.7 450.3 L466.6 449.7 L467.4 449.6 L468.4 451.0 L469.7 452.2 L470.9 451.4 L472.1 451.3 L473.3 452.3 L474.6 452.4 L480.7 452.4 L482.6 452.8 L485.6 453.0 L486.9 453.3 L489.1 453.0 L490.5 453.2 L491.8 452.2 L493.0 452.4 L493.6 453.0 L494.2 452.3 L496.1 453.1 L497.3 453.1 L497.9 454.0 L499.1 453.9 L500.4 452.7 L501.6 452.7 L502.8 453.5 L504.1 453.7 L510.2 453.7 L511.4 454.1 L521.3 454.2 L523.1 454.5 L524.9 453.9 L526.8 453.7 L527.6 452.6 L529.2 453.1 L530.5 452.7 L532.9 452.4 L535.1 452.2 L536.6 452.4 L538.4 452.7 L540.3 453.0 L542.1 453.4 L544.6 453.6 L547.7 453.9 L549.5 454.1 L551.3 453.8 L553.2 453.6 L553.8 453.2 L555.6 453.2 L556.9 453.6 L559.9 453.8 L561.8 454.1 L563.0 454.2 L563.6 453.4 L566.1 453.1 L568.5 452.8 L571.0 452.6 L573.5 452.2 L575.3 452.1 L585.7 452.1 L586.7 451.7 L588.2 451.3 L593.1 451.3 L593.7 451.8 L595.0 452.3 L595.8 451.5 L597.0 451.4 L598.0 452.4 L599.9 452.7 L601.7 452.6 L603.6 452.5 L604.4 451.7 L605.4 451.7 L606.0 452.0 L607.2 452.0 L607.8 452.8 L614.0 452.8 L615.8 453.4 L618.3 453.6 L619.5 453.8 L621.4 453.7 L622.2 453.0 L623.8 453.2 L629.3 453.2 L630.6 453.6 L631.8 454.1 L633.6 454.1 L634.5 453.8 L635.5 454.7 L637.3 455.1 L639.2 455.2 L640.4 455.6 L642.2 455.6 L644.1 455.1 L645.3 453.9 L646.5 453.0 L647.8 453.0 L648.4 453.5 L649.6 453.8 L650.8 453.9 L651.7 453.4 L652.7 453.8 L653.3 454.4 L655.1 454.7 L657.0 454.1 L658.8 453.5 L661.3 452.7 L663.7 452.6 L666.2 452.5 L666.8 452.0 L668.0 452.4 L669.9 452.0 L671.1 452.0 L673.0 451.8 L674.8 451.6 L678.5 451.7 L679.7 451.8 L680.9 452.3 L684.6 452.3 L687.1 452.4 L688.9 452.8 L690.1 453.1 L691.4 452.9 L692.6 453.3 L695.7 453.1 L696.9 452.6 L698.7 452.5 L700.6 452.4 L703.7 452.1 L706.7 452.0 L708.6 451.7 L712.3 451.7 L712.9 452.4 L714.7 452.5 L716.6 452.4 L717.8 452.0 L719.6 451.8 L722.1 451.7 L724.5 451.6 L727.0 451.3 L728.8 451.2 L730.7 451.4 L733.1 451.2 L735.6 451.0 L738.1 450.8 L740.5 450.6 L743.0 450.4 L744.2 450.2 L745.2 450.4 L746.7 450.0 L749.1 449.8 L752.2 449.6 L755.3 449.6 L757.7 449.5 L758.9 449.2 L760.8 449.2 L762.0 449.4 L763.2 449.6 L766.9 449.6 L773.7 449.6 L774.9 450.0 L776.1 450.4 L778.0 450.8 L780.4 451.4 L782.3 451.6 L784.7 451.8 L787.8 452.0 L789.6 452.1 L791.5 452.3 L793.9 452.2 L795.8 452.7 L796.9 453.3 L797.6 452.4 L798.9 452.5 L800.1 452.8 L801.9 453.0 L803.8 452.4 L805.0 452.4 L806.2 452.3 L808.1 452.1 L809.3 452.2 L810.5 452.0 L812.4 451.7 L814.2 451.5 L816.1 450.8 L817.9 450.9 L820.4 449.9 L821.6 449.9 L822.2 450.4 L823.4 450.2 L825.3 449.8 L828.3 449.8 L830.8 449.7 L835.7 449.6 L842.0 449.6 L844.9 449.6 L851.5 449.5 L856.4 449.4 L861.3 449.3 L863.0 449.2 L868.7 449.3 L869.5 449.7 L870.3 450.4 L872.0 450.4 L872.8 450.0 L874.4 450.4 L879.3 450.5 L882.6 450.6 L884.3 450.5 L885.9 450.6 L887.5 451.2 L889.2 451.4 L891.6 451.2 L892.5 451.0 L893.8 451.4 L895.4 450.7 L897.4 450.6 L898.7 451.4 L899.8 451.6 L903.9 451.6 L905.6 452.1 L907.2 452.4 L909.7 452.7 L911.3 452.8 L913.0 453.1 L914.6 452.9 L916.2 453.2 L917.9 453.4 L921.7 453.5 L926.6 453.5 L927.6 452.8 L928.4 453.5 L930.0 452.7 L930.9 453.8 L932.1 453.9 L933.4 452.8 L935.8 452.8 L937.0 454.6 L938.3 453.6 L940.1 453.6 L940.7 454.7 L948.7 454.7 L949.9 454.1 L951.8 454.1 L952.4 454.6 L953.6 454.7 L954.2 454.4 L955.5 454.8 L958.5 454.6 L960.4 454.6 L961.6 454.4 L963.5 454.2 L964.7 454.0 L965.9 454.4 L967.1 453.9 L969.0 453.6 L970.8 453.3 L973.3 453.2 L975.1 453.0 L977.0 452.8 L978.2 452.7 L979.2 453.6 L980.0 452.8 L981.3 452.6 L982.5 452.5 L983.7 453.4 L984.3 452.7 L985.6 452.4 L986.8 452.9 L988.0 452.6 L990.5 452.5 L993.0 452.4 L995.4 452.4 L999.9 452.3 L1001.6 452.6 L1002.4 453.0 L1003.7 453.7 L1004.9 453.1 L1006.5 452.6 L1007.3 453.6 L1009.0 452.7 L1010.6 453.2 L1012.2 453.3 L1013.9 454.0 L1015.5 454.5 L1018.0 455.2 L1020.4 455.9 L1022.9 456.6 L1024.5 457.2 L1024.9 457.5" fill="none" stroke="#62a6da" stroke-width="1"/>
<circle cx="62.9" cy="455.8" r="7" fill="#fff" stroke="#3d8ccb" stroke-width="1.5"/>
<path d="M60.7 452.2V459.6M65.1 452.2V459.6" stroke="#3f86bd" stroke-width="1.2"/>
</svg></body></html>
